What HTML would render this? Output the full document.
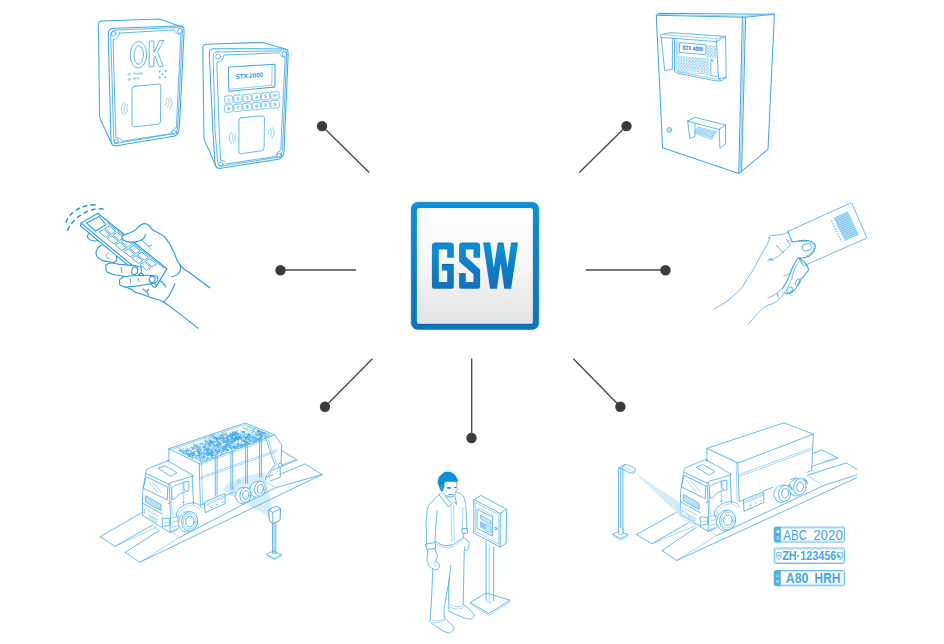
<!DOCTYPE html>
<html><head><meta charset="utf-8">
<style>
html,body{margin:0;padding:0;background:#fff;}
body{width:944px;height:644px;overflow:hidden;font-family:"Liberation Sans",sans-serif;}
svg{display:block;}
.b{fill:none;stroke:#45abe7;stroke-width:0.85;stroke-linejoin:round;stroke-linecap:round;}
.b2{fill:none;stroke:#3fa8e6;stroke-width:1.05;stroke-linejoin:round;stroke-linecap:round;}
.bl{fill:none;stroke:#7cc4ee;stroke-width:0.8;stroke-linejoin:round;stroke-linecap:round;}
.h{fill:none;stroke:#2199e2;stroke-width:1.1;stroke-linejoin:round;stroke-linecap:round;}
.hl{fill:none;stroke:#3aa7e4;stroke-width:0.9;}
.c{fill:none;stroke:#4aaee9;stroke-width:0.85;stroke-linejoin:round;stroke-linecap:round;}
.cl{fill:none;stroke:#6fbfee;stroke-width:0.8;}
.t{fill:none;stroke:#42abe9;stroke-width:0.82;stroke-linejoin:round;stroke-linecap:round;}
.tl{fill:none;stroke:#74c1ef;stroke-width:0.65;}
.m{fill:none;stroke:#42abe9;stroke-width:0.85;stroke-linejoin:round;stroke-linecap:round;}
.ml{fill:none;stroke:#7cc5ef;stroke-width:0.7;}
.k{stroke:#444;stroke-width:1.3;fill:none;}
.d{fill:#3b3b3b;}
</style></head><body>
<svg width="944" height="644" viewBox="0 0 944 644">
<defs>
<linearGradient id="gb" x1="0" y1="0" x2="0" y2="1"><stop offset="0" stop-color="#0591da"/><stop offset="1" stop-color="#0a74be"/></linearGradient>
<linearGradient id="gi" x1="0" y1="0" x2="0" y2="1"><stop offset="0" stop-color="#ffffff"/><stop offset="0.45" stop-color="#f7f7f7"/><stop offset="1" stop-color="#e2e2e2"/></linearGradient>
<linearGradient id="gt" x1="0" y1="0" x2="0" y2="1"><stop offset="0" stop-color="#088fdb"/><stop offset="1" stop-color="#156fb9"/></linearGradient>
</defs>
<!-- CONNECTORS -->
<g id="conn">
<line class="k" x1="322" y1="126" x2="369.2" y2="172.5"/><circle class="d" cx="322" cy="126.1" r="5.2"/>
<line class="k" x1="626.5" y1="126" x2="579.3" y2="172.5"/><circle class="d" cx="626.5" cy="126.1" r="5.2"/>
<line class="k" x1="280.5" y1="270" x2="356" y2="270"/><circle class="d" cx="280.5" cy="270.3" r="5.2"/>
<line class="k" x1="586" y1="270" x2="665.5" y2="270"/><circle class="d" cx="665.5" cy="270.3" r="5.2"/>
<line class="k" x1="325" y1="406.8" x2="372.4" y2="358.8"/><circle class="d" cx="325" cy="406.8" r="5.2"/>
<line class="k" x1="471.7" y1="358.6" x2="471.7" y2="438"/><circle class="d" cx="471.5" cy="438" r="5.2"/>
<line class="k" x1="620.4" y1="406.8" x2="573.4" y2="358.8"/><circle class="d" cx="620.4" cy="406.8" r="5.2"/>
</g>
<!-- GSW BOX -->
<g id="gsw">
<rect x="411.2" y="202.2" width="127.6" height="127.4" rx="6.8" fill="url(#gb)" stroke="#0a62a8" stroke-width="0.5"/>
<rect x="416.9" y="207.9" width="116" height="116" rx="2.6" fill="url(#gi)"/><path d="M419,324.3 H531" stroke="#0b3f8c" stroke-width="0.8" opacity="0.75"/>
<g fill="url(#gt)">
<path d="M434.4,242.8 H451.3 Q453.8,242.8 453.8,245.3 V257.8 H447.2 V249.5 H438.8 V281.9 H447.2 V270.5 H441.9 V264.1 H453.8 V286.2 Q453.8,288.7 451.3,288.7 H434.4 Q431.9,288.7 431.9,286.2 V245.3 Q431.9,242.8 434.4,242.8 Z"/>
<path d="M461.6,242.8 H477.6 Q480.1,242.8 480.1,245.3 V257.8 H473.5 V249.5 H465.8 V256.5 L480.1,269.5 V286.2 Q480.1,288.7 477.6,288.7 H461.6 Q459.1,288.7 459.1,286.2 V273.3 H465.8 V281.9 H473.5 V274.2 L459.1,261.5 V245.3 Q459.1,242.8 461.6,242.8 Z"/>
<path d="M483.2,242.8 H490.3 L493.8,268 L497.8,242.8 H503.5 L507.6,268 L510.9,242.8 H518 L511.1,288.7 H504.3 L500.6,263 L497,288.7 H490 Z"/>
</g>
<path d="M434.2,243.1 H451.4 M461.4,243.1 H477.8 M483.3,243.1 H490.2 M497.9,243.1 H503.4 M511,243.1 H517.9 M442,264.4 H453.6 M459.3,273.6 H465.6" stroke="#1d3f94" stroke-width="0.7" opacity="0.75" fill="none"/>
</g>
<!-- OK DEVICE -->
<g id="okdev" class="b">
<path class="b2" d="M101.9,20.9 Q98.3,21 98.4,24.6 L99.6,116 Q99.8,119.6 101.9,122.6 L111.8,144"/>
<path class="b2" d="M101.9,20.9 L159.1,19.1 L183.6,27.6"/>
<path class="b2" d="M113.6,28.3 L178.7,25.9 Q184.3,25.8 184.1,31.2 L180.3,110 L179,129.6 Q178.7,133.6 175,135.9 L116.2,145.7 Q111.4,146.3 111,141 L108.2,34 Q108.1,28.6 113.6,28.3 Z"/>
<path d="M116,30 L177.2,27.6 Q182.5,27.5 182.4,32.4 L178.7,110 L177.5,128.8 Q177.2,132.3 174,133.6 L119.6,142.9 Q114,143.8 113.7,138.6 L110.8,35.4 Q110.7,30.3 116,30 Z"/>
<path d="M119.4,33.1 L174.5,29.9 Q175,33.8 180.8,34.4 L177.2,110 L176.4,127.6 Q171.8,128.6 171.5,133.6 L121.8,141.3 Q121,137.4 115.8,137.8 L113,39.6 Q118.8,39 119.4,33.1 Z"/>
<circle cx="113.7" cy="33.9" r="2.4"/><circle cx="180" cy="31" r="2.4"/><circle cx="116.2" cy="141.5" r="2.2"/><circle cx="174.8" cy="132.8" r="2.2"/>
<g transform="matrix(1,-0.045,0,1,0,6.2)">
<ellipse cx="138.5" cy="54.8" rx="8.3" ry="13.3"/><ellipse cx="138.7" cy="55" rx="4.7" ry="9.3"/>
<path d="M149.6,41.7 H153.9 V53.2 L159.7,41.7 H164 L157.5,53 L163.4,67.4 H159.1 L155,56.9 L153.9,58.6 V67.4 H149.6 Z"/>
</g>
<circle cx="129.2" cy="74.5" r="1.1" class="bl"/><circle cx="129.2" cy="79.3" r="1.1" class="bl"/>
<g font-family="Liberation Sans, sans-serif" font-weight="700" font-size="2.9" fill="#4fade8" stroke="none" transform="matrix(1,-0.045,0,1,0,6.2)"><text x="133" y="74.6" textLength="10" lengthAdjust="spacingAndGlyphs">POWER</text><text x="133" y="79.5" textLength="6.6" lengthAdjust="spacingAndGlyphs">RFID</text></g>
<g fill="#4fade8" stroke="none"><circle cx="159.7" cy="71.5" r="0.95"/><circle cx="165.6" cy="71" r="0.95"/><circle cx="162.5" cy="74.2" r="0.95"/><circle cx="159.7" cy="77.4" r="0.95"/><circle cx="165.4" cy="77" r="0.95"/></g>
<path d="M134.8,86.3 L158.2,84 Q160.9,83.8 160.9,86.6 L160.5,121.2 Q160.5,123.8 157.8,124.2 L134.8,126.8 Q132,127.2 132,124.4 L132,89.2 Q132,86.6 134.8,86.3 Z" stroke="#62b8ec" stroke-width="1"/>
<path class="bl" d="M127.6,104.8 Q125.6,108.3 127.6,111.8 M125.6,103.4 Q122.4,108.5 125.6,113.6 M123.6,102.5 Q118.6,108.7 123.4,115"/>
<path class="bl" d="M165.5,99.4 Q167.3,102.4 165.6,105.4 M167.4,98 Q171,102.7 167.6,107.4 M169.5,96.9 Q174.6,103 169.5,109.4"/>
</g>
<!-- STX2000 DEVICE -->
<g id="stx2000" class="b">
<path class="b2" d="M206.2,44.3 Q202.7,44.5 202.8,48 L204,138 Q204.2,141 206.2,144 L216,166.4"/>
<path class="b2" d="M206.2,44.3 L262.6,42.4 L287.8,49.8"/>
<path class="b2" d="M213.4,48.7 L282.7,48.9 Q288.4,48.9 288.2,54 L284.9,130 L284,151.6 Q283.8,156 279.6,159.1 L221,168.3 Q215.6,169 215,163.6 L212.8,130 L209.3,54 Q209.2,48.8 213.4,48.7 Z"/>
<path d="M217.4,51.9 L281.7,50.8 Q286.9,50.8 286.7,55.6 L283.3,130 L282.4,150.8 Q282.2,154.6 278.6,157.2 L223.4,165.9 Q218.2,166.6 217.6,161.4 L215,130 L213.2,57 Q213.1,52 217.4,51.9 Z"/>
<path d="M224,55.1 L279.6,52.7 Q280.2,56.6 285.2,57.4 L281.7,130 L280.8,150.2 Q276.6,151.4 276.2,156.3 L226.2,163.9 Q225.4,160.2 220.6,160.6 L219.2,130 L216.8,62.4 Q223.2,61.4 224,55.1 Z"/>
<circle cx="218.2" cy="56.7" r="2.5"/><circle cx="284.6" cy="53.9" r="2.5"/><circle cx="220.8" cy="164.3" r="2.2"/><circle cx="279.2" cy="155.4" r="2.2"/>
<path d="M229.4,67 L274,64.2 Q275,64.2 275,65.2 L275,86 Q275,87 274,87.1 L230,91.2 Q228.9,91.3 228.9,90.2 L228.4,68 Q228.4,67.1 229.4,67 Z" stroke-width="1.1"/>
<path class="bl" d="M272.2,65.6 L271.7,85.2 L229.3,89.4 M271.7,85.2 L274.8,86.8"/>
<g transform="matrix(1,-0.08,0,1,0,19.9)"><text x="249.3" y="78" text-anchor="middle" font-family="Liberation Sans, sans-serif" font-weight="700" font-size="6.4" fill="#3494dc" stroke="none" textLength="27.4" lengthAdjust="spacingAndGlyphs">STX 2000</text></g>
<g id="keys" style="stroke-width:0.8;stroke:#6bbcec"><rect x="224.5" y="95.9" width="8.3" height="7.3" rx="1.3" transform="rotate(-5.2 228.7 99.6)"/><text x="228.7" y="101.4" text-anchor="middle" font-size="4.9" font-weight="700" font-family="Liberation Sans, sans-serif" fill="#4aa9e7" stroke="none" transform="rotate(-5.2 228.7 99.6)">1</text><rect x="233.8" y="95.1" width="8.3" height="7.3" rx="1.3" transform="rotate(-5.2 238.0 98.8)"/><text x="238.0" y="100.5" text-anchor="middle" font-size="4.9" font-weight="700" font-family="Liberation Sans, sans-serif" fill="#4aa9e7" stroke="none" transform="rotate(-5.2 238.0 98.8)">2</text><rect x="243.0" y="94.3" width="8.3" height="7.3" rx="1.3" transform="rotate(-5.2 247.2 97.9)"/><text x="247.2" y="99.7" text-anchor="middle" font-size="4.9" font-weight="700" font-family="Liberation Sans, sans-serif" fill="#4aa9e7" stroke="none" transform="rotate(-5.2 247.2 97.9)">3</text><rect x="252.3" y="93.4" width="8.3" height="7.3" rx="1.3" transform="rotate(-5.2 256.5 97.1)"/><text x="256.5" y="98.8" text-anchor="middle" font-size="4.9" font-weight="700" font-family="Liberation Sans, sans-serif" fill="#4aa9e7" stroke="none" transform="rotate(-5.2 256.5 97.1)">4</text><rect x="261.4" y="92.6" width="8.3" height="7.3" rx="1.3" transform="rotate(-5.2 265.5 96.3)"/><text x="265.5" y="98.0" text-anchor="middle" font-size="4.9" font-weight="700" font-family="Liberation Sans, sans-serif" fill="#4aa9e7" stroke="none" transform="rotate(-5.2 265.5 96.3)">5</text><rect x="270.8" y="91.8" width="8.3" height="7.3" rx="1.3" transform="rotate(-5.2 274.9 95.4)"/><text x="274.9" y="96.6" text-anchor="middle" font-size="3.3" font-weight="700" font-family="Liberation Sans, sans-serif" fill="#4aa9e7" stroke="none" transform="rotate(-5.2 274.9 95.4)">OK</text><rect x="224.5" y="104.9" width="8.3" height="7.3" rx="1.3" transform="rotate(-5.2 228.7 108.6)"/><text x="228.7" y="110.4" text-anchor="middle" font-size="4.9" font-weight="700" font-family="Liberation Sans, sans-serif" fill="#4aa9e7" stroke="none" transform="rotate(-5.2 228.7 108.6)">6</text><rect x="233.8" y="104.1" width="8.3" height="7.3" rx="1.3" transform="rotate(-5.2 238.0 107.7)"/><text x="238.0" y="109.5" text-anchor="middle" font-size="4.9" font-weight="700" font-family="Liberation Sans, sans-serif" fill="#4aa9e7" stroke="none" transform="rotate(-5.2 238.0 107.7)">7</text><rect x="243.0" y="103.2" width="8.3" height="7.3" rx="1.3" transform="rotate(-5.2 247.2 106.9)"/><text x="247.2" y="108.6" text-anchor="middle" font-size="4.9" font-weight="700" font-family="Liberation Sans, sans-serif" fill="#4aa9e7" stroke="none" transform="rotate(-5.2 247.2 106.9)">8</text><rect x="252.3" y="102.4" width="8.3" height="7.3" rx="1.3" transform="rotate(-5.2 256.5 106.0)"/><text x="256.5" y="107.8" text-anchor="middle" font-size="4.9" font-weight="700" font-family="Liberation Sans, sans-serif" fill="#4aa9e7" stroke="none" transform="rotate(-5.2 256.5 106.0)">9</text><rect x="261.4" y="101.5" width="8.3" height="7.3" rx="1.3" transform="rotate(-5.2 265.5 105.2)"/><text x="265.5" y="106.9" text-anchor="middle" font-size="4.9" font-weight="700" font-family="Liberation Sans, sans-serif" fill="#4aa9e7" stroke="none" transform="rotate(-5.2 265.5 105.2)">0</text><rect x="270.8" y="100.6" width="8.3" height="7.3" rx="1.3" transform="rotate(-5.2 274.9 104.3)"/><text x="274.9" y="106.1" text-anchor="middle" font-size="4.9" font-weight="700" font-family="Liberation Sans, sans-serif" fill="#4aa9e7" stroke="none" transform="rotate(-5.2 274.9 104.3)">X</text></g>
<path d="M241.6,117.7 L261.8,115.9 Q264.5,115.7 264.5,118.4 L264.1,147.8 Q264.1,150.4 261.4,150.8 L241.6,153.6 Q238.9,154 238.9,151.2 L238.9,120.6 Q238.9,118 241.6,117.7 Z" stroke="#62b8ec" stroke-width="1"/>
<path class="bl" d="M235.4,134.4 Q233.6,137.6 235.4,140.8 M233.5,133.2 Q230.6,137.7 233.5,142.2 M231.6,132 Q227,137.8 231.4,143.4"/>
<path class="bl" d="M268.2,129.4 Q269.8,132.2 268.3,135 M270,128.2 Q273.2,132.4 270.2,136.8 M271.9,127 Q276.6,132.6 272,138.2"/>
</g>
<!-- STX4000 CABINET -->
<g id="cab" class="b">
<path class="b2" d="M656.3,15.3 L662.6,147.8 L738.8,173.4 L741.6,171.3 L768,149.3 L774.4,14.3"/>
<path class="b2" d="M656.3,15.3 L659.2,13.2 L774.4,14.3 L745.6,17.2 L656.3,15.3"/>
<path d="M657,14.4 L745.3,16.2 L774,13.6" class="bl"/>
<path class="b2" d="M742.4,16.8 L738.8,173.4 M745.6,17.2 L741.6,171.3"/>
<path d="M744,17 L740.2,172.3" class="bl"/>
<!-- hood -->
<path d="M661,34.5 L671,32.7 L725.6,36.4 L716.4,41.6 L661.2,37.4 Z"/>
<path d="M661,34.5 L716.2,38.8 L725.6,36.4 M716.2,38.8 L716.4,41.6" class="bl"/>
<path d="M661.2,37.4 L664.7,70.6 L672.4,69.2 L672.4,38.4"/>
<path d="M725.6,36.4 L726.2,77.6 L718.5,78.6 L716.4,41.6 M718.5,78.6 L721.5,80.6 L726.2,77.6" />
<!-- terminal panel -->
<path d="M674.5,38.6 L674.5,70 Q674.6,72.6 677.2,73.2 L716.5,81 L721.5,80.6"/>
<path class="bl" d="M676,39 L676,69.2 Q676,71.3 678,71.8 L717.8,79.4"/>
<path d="M680,42.6 L705.9,44.8 L705.9,54.7 L680,52.5 Z"/>
<g transform="matrix(1,0.085,0,1,0,-58.9)"><text x="692.8" y="50.4" text-anchor="middle" font-family="Liberation Sans, sans-serif" font-weight="700" font-size="5.8" fill="#2a8ad6" stroke="#2a8ad6" stroke-width="0.15" textLength="20.8" lengthAdjust="spacingAndGlyphs">STX 4000</text></g>
<g id="kb4000" class="bl" style="stroke-width:0.6"><rect x="676.6" y="42.6" width="2.2" height="2.2" rx="0.7"/><rect x="676.6" y="45.8" width="2.2" height="2.2" rx="0.7"/><rect x="676.6" y="49.0" width="2.2" height="2.2" rx="0.7"/><rect x="676.6" y="52.2" width="2.2" height="2.2" rx="0.7"/><rect x="707.2" y="45.6" width="2.4" height="2.2" rx="0.7"/><rect x="707.2" y="48.7" width="2.4" height="2.2" rx="0.7"/><rect x="707.2" y="51.8" width="2.4" height="2.2" rx="0.7"/><rect x="707.2" y="54.9" width="2.4" height="2.2" rx="0.7"/><rect x="710.5" y="45.9" width="2.4" height="2.2" rx="0.7"/><rect x="710.5" y="49.0" width="2.4" height="2.2" rx="0.7"/><rect x="710.5" y="52.1" width="2.4" height="2.2" rx="0.7"/><rect x="710.5" y="55.2" width="2.4" height="2.2" rx="0.7"/><rect x="713.8" y="46.2" width="2.4" height="2.2" rx="0.7"/><rect x="713.8" y="49.3" width="2.4" height="2.2" rx="0.7"/><rect x="713.8" y="52.4" width="2.4" height="2.2" rx="0.7"/><rect x="713.8" y="55.5" width="2.4" height="2.2" rx="0.7"/><rect x="677.2" y="56.4" width="2.2" height="2.3" rx="0.7"/><rect x="680.1" y="56.6" width="2.2" height="2.3" rx="0.7"/><rect x="683.0" y="56.9" width="2.2" height="2.3" rx="0.7"/><rect x="685.9" y="57.1" width="2.2" height="2.3" rx="0.7"/><rect x="688.8" y="57.4" width="2.2" height="2.3" rx="0.7"/><rect x="691.7" y="57.6" width="2.2" height="2.3" rx="0.7"/><rect x="694.6" y="57.9" width="2.2" height="2.3" rx="0.7"/><rect x="697.5" y="58.1" width="2.2" height="2.3" rx="0.7"/><rect x="700.4" y="58.4" width="2.2" height="2.3" rx="0.7"/><rect x="703.3" y="58.6" width="2.2" height="2.3" rx="0.7"/><rect x="706.2" y="58.9" width="2.2" height="2.3" rx="0.7"/><rect x="677.8" y="59.7" width="2.2" height="2.3" rx="0.7"/><rect x="680.7" y="59.9" width="2.2" height="2.3" rx="0.7"/><rect x="683.6" y="60.2" width="2.2" height="2.3" rx="0.7"/><rect x="686.5" y="60.4" width="2.2" height="2.3" rx="0.7"/><rect x="689.4" y="60.7" width="2.2" height="2.3" rx="0.7"/><rect x="692.3" y="60.9" width="2.2" height="2.3" rx="0.7"/><rect x="695.2" y="61.2" width="2.2" height="2.3" rx="0.7"/><rect x="698.1" y="61.4" width="2.2" height="2.3" rx="0.7"/><rect x="701.0" y="61.7" width="2.2" height="2.3" rx="0.7"/><rect x="703.9" y="61.9" width="2.2" height="2.3" rx="0.7"/><rect x="706.8" y="62.2" width="2.2" height="2.3" rx="0.7"/><rect x="677.2" y="63.0" width="2.2" height="2.3" rx="0.7"/><rect x="680.1" y="63.2" width="2.2" height="2.3" rx="0.7"/><rect x="683.0" y="63.5" width="2.2" height="2.3" rx="0.7"/><rect x="685.9" y="63.8" width="2.2" height="2.3" rx="0.7"/><rect x="688.8" y="64.0" width="2.2" height="2.3" rx="0.7"/><rect x="691.7" y="64.2" width="2.2" height="2.3" rx="0.7"/><rect x="694.6" y="64.5" width="2.2" height="2.3" rx="0.7"/><rect x="697.5" y="64.8" width="2.2" height="2.3" rx="0.7"/><rect x="700.4" y="65.0" width="2.2" height="2.3" rx="0.7"/><rect x="703.3" y="65.2" width="2.2" height="2.3" rx="0.7"/><rect x="706.2" y="65.5" width="2.2" height="2.3" rx="0.7"/><rect x="677.8" y="66.3" width="2.2" height="2.3" rx="0.7"/><rect x="680.7" y="66.5" width="2.2" height="2.3" rx="0.7"/><rect x="683.6" y="66.8" width="2.2" height="2.3" rx="0.7"/><rect x="686.5" y="67.0" width="2.2" height="2.3" rx="0.7"/><rect x="689.4" y="67.3" width="2.2" height="2.3" rx="0.7"/><rect x="692.3" y="67.5" width="2.2" height="2.3" rx="0.7"/><rect x="695.2" y="67.8" width="2.2" height="2.3" rx="0.7"/><rect x="698.1" y="68.0" width="2.2" height="2.3" rx="0.7"/><rect x="701.0" y="68.3" width="2.2" height="2.3" rx="0.7"/><rect x="703.9" y="68.5" width="2.2" height="2.3" rx="0.7"/><rect x="706.8" y="68.8" width="2.2" height="2.3" rx="0.7"/><rect x="677.8" y="69.6" width="2.2" height="2.3" rx="0.7"/><rect x="680.7" y="69.8" width="2.2" height="2.3" rx="0.7"/><rect x="683.6" y="70.1" width="2.2" height="2.3" rx="0.7"/><rect x="701.0" y="71.6" width="2.2" height="2.3" rx="0.7"/><rect x="703.9" y="71.8" width="2.2" height="2.3" rx="0.7"/><rect x="706.8" y="72.1" width="2.2" height="2.3" rx="0.7"/><path d="M687.6,70.6 L699.6,71.6 L699.6,73.6 L687.6,72.6 Z"/></g>
<path d="M710.8,60.9 L710.8,75.4 L716.6,76.6 M710.8,60.9 L712,59 L712.6,61.4"/>
<!-- lock -->
<circle cx="669.3" cy="129.9" r="2.4"/><circle cx="669.6" cy="130" r="1.3" class="bl"/>
<!-- printer -->
<path d="M698.2,127.1 L716.4,131.6 L711.5,139.5 L694.5,133 Z" fill="#cfe9f9" stroke="#8fcdf0"/>
<path class="bl" d="M697.6,129 L714.8,133.6 M696.8,130.6 L713.6,135.6 M696,132 L712.6,137.4"/>
<path d="M687.7,120.9 L695,117.4 L725.5,125.1 L719.2,129.2 Z"/>
<path d="M687.7,120.9 L689.8,138.6 L695,136.2 L695,123"/>
<path d="M719.2,129.2 L719.9,148.1 L725.5,143.9 L725.5,125.1"/>
</g>
<!-- REMOTE HAND -->
<g id="remote" class="h">
<path d="M146.7,224.0 C147.8,224.8 147.9,224.5 150.0,226.5 C152.1,228.5 149.6,227.5 153.0,230.0 C156.5,232.5 155.7,230.8 160.4,234.1 C165.0,237.3 162.5,234.1 166.9,239.8 C171.2,245.5 169.1,242.9 173.4,251.2 C177.8,259.5 174.0,257.0 179.9,264.6 C185.9,272.2 181.3,266.3 191.4,274.0 C201.4,281.8 203.9,283.3 210.1,287.9"/>
<path d="M180.3,265.1 C180.2,267.0 181.1,267.5 179.9,270.8 C178.7,274.0 179.4,273.0 176.7,274.9 C174.0,276.8 173.4,275.9 171.8,276.5"/>
<path d="M175.0,283.8 C173.7,286.6 173.7,287.1 171.0,292.0 C168.2,296.9 169.4,295.3 166.9,298.5 C164.3,301.8 164.5,300.7 163.3,301.8"/>
<path d="M124.5,286.8 C126.9,287.7 128.3,287.8 131.8,289.5 C135.3,291.3 131.5,290.4 135.1,292.0 C138.6,293.6 136.2,292.3 142.4,294.4 C148.7,296.6 147.0,296.1 153.8,298.5 C160.6,301.0 155.2,297.4 162.8,301.8 C170.4,306.1 165.0,302.8 176.7,311.6 C188.4,320.4 190.8,322.7 197.9,328.2"/>
<path d="M157.9,279.8 C159.5,280.8 160.3,280.7 162.8,283.0 C165.4,285.4 164.7,285.5 165.6,286.8"/>
<path d="M142.7,289.1 C144.0,289.9 144.5,289.6 146.5,291.7 C148.5,293.7 147.9,294.1 148.6,295.3 M146.5,291.7 l2.2,-2.2"/>
<path d="M88.7,234.0 C88.3,235.1 86.6,235.3 87.7,237.5 C88.7,239.7 88.4,239.5 91.9,240.5 C95.3,241.6 96.0,240.5 98.0,240.5"/>
<path d="M97.7,213.3 L166.9,268.7 L156.6,285.6 L154.8,287.6 L80.3,225.6 L81,223.1 Z" fill="#fff"/>
<path d="M81,223.1 L156.6,285.6"/>
<path d="M86.6,223.1 L99.1,216.5 L106.1,224.5 L95.6,231 Z"/>
<g class="hl"><path d="M109.5,226.2 L115.9,231.3 L111.4,234.0 L105.0,228.8 Z" /><path d="M103.8,229.5 L110.2,234.7 L105.7,237.3 L99.3,232.2 Z" /><path d="M117.6,232.7 L124.0,237.9 L119.6,240.5 L113.2,235.4 Z" /><path d="M112.0,236.1 L118.4,241.2 L113.9,243.8 L107.5,238.7 Z" /><path d="M125.8,239.3 L132.2,244.4 L127.7,247.0 L121.3,241.9 Z" /><path d="M120.1,242.6 L126.5,247.7 L122.0,250.4 L115.6,245.2 Z" /><path d="M134.0,245.8 L140.4,250.9 L135.9,253.6 L129.5,248.4 Z" /><path d="M128.3,249.1 L134.7,254.3 L130.2,256.9 L123.8,251.8 Z" /><path d="M142.1,252.3 L148.5,257.5 L144.0,260.1 L137.6,255.0 Z" /><path d="M136.4,255.7 L142.8,260.8 L138.3,263.4 L131.9,258.3 Z" /><path d="M150.3,258.9 L156.7,264.0 L152.2,266.6 L145.8,261.5 Z" /><path d="M144.6,262.2 L151.0,267.3 L146.5,270.0 L140.1,264.8 Z" /><path d="M107.4,222.8 L163.6,267.8"/></g>
<path d="M101.9,245.4 C100.5,246.4 99.6,245.2 97.7,248.2 C95.9,251.3 95.4,250.8 96.3,254.5 C97.3,258.2 96.8,257.1 100.5,259.4 C104.3,261.7 102.6,260.7 107.5,261.5 C112.4,262.3 112.2,263.6 115.2,261.8 C118.2,259.9 116.1,257.9 116.6,255.9" fill="#fff"/>
<path d="M109.2,252.8 C108.3,253.5 107.3,253.2 106.5,254.8 C105.8,256.4 105.9,256.4 106.8,257.6 C107.7,258.8 108.4,258.1 109.2,258.4" class="hl"/>
<path d="M109.0,263.4 C104.0,265.0 105.9,265.9 106.2,269.2 C106.5,272.4 104.8,271.1 109.8,273.2 C114.8,275.4 113.6,274.5 121.2,275.7 C128.8,276.8 126.6,277.1 132.6,276.7 C138.6,276.2 136.3,276.8 139.2,274.4 C142.0,272.0 141.7,272.2 141.1,269.5 C140.6,266.8 144.2,267.8 137.5,266.2 C130.9,264.6 130.7,265.5 121.2,264.6 C111.7,263.7 114.0,261.9 109.0,263.4 Z" fill="#fff"/>
<ellipse cx="134.7" cy="270.8" rx="3" ry="3.8" transform="rotate(15 134.7 270.8)"/>
<path d="M121.2,267.5 L121.9,272.7" class="hl"/>
<path d="M122.0,277.8 C119.3,279.8 119.3,279.4 119.6,282.2 C119.8,285.0 118.5,284.9 122.8,286.3 C127.2,287.7 123.9,287.2 132.6,286.4 C141.3,285.7 141.1,285.5 148.9,284.0 C156.8,282.5 153.5,283.8 156.3,281.9 C159.1,279.9 158.2,280.2 157.4,278.1 C156.6,276.1 159.4,276.5 153.8,275.7 C148.3,274.8 149.5,275.3 140.8,275.5 C132.1,275.7 134.0,275.6 127.7,276.3 C121.5,277.1 124.7,275.8 122.0,277.8 Z" fill="#fff"/>
<ellipse cx="152.2" cy="279.4" rx="2.9" ry="3.2" transform="rotate(20 152.2 279.4)"/>
<path d="M130.2,278.9 L130.8,283.0 M138.3,278.3 L139.0,281.4" class="hl"/>
<path d="M122.2,235.9 C123.4,235.4 121.7,236.0 125.7,234.2 C129.7,232.5 129.0,233.9 134.1,230.8 C139.2,227.6 136.9,227.0 141.1,224.7 C145.3,222.5 145.3,220.9 146.7,224.0 C148.1,227.2 146.2,229.6 145.3,234.2 C144.3,238.9 146.2,235.7 143.9,238.0 C141.5,240.4 142.9,239.9 138.3,241.2 C133.6,242.5 134.9,242.4 129.9,241.9 C124.9,241.5 125.7,241.8 123.2,239.8 C120.6,237.8 122.5,237.2 122.2,235.9 Z" fill="#fff" stroke="none"/>
<path d="M122.2,235.9 C123.4,235.4 121.7,236.0 125.7,234.2 C129.7,232.5 129.0,233.9 134.1,230.8 C139.2,227.6 136.9,227.0 141.1,224.7 C145.3,222.5 144.8,224.3 146.7,224.0"/>
<path d="M145.3,234.2 C144.8,235.5 146.2,235.7 143.9,238.0 C141.5,240.4 142.9,239.9 138.3,241.2 C133.6,242.5 134.9,242.4 129.9,241.9 C124.9,241.5 125.7,241.8 123.2,239.8 C120.6,237.8 122.5,237.2 122.2,235.9"/>
<path d="M141.8,240.5 C143.4,241.8 143.5,241.6 146.7,244.5 C149.8,247.3 149.6,247.6 151.1,249.2 M148.3,246.4 l3.4,-1.2" class="hl"/>
<path d="M65.8,222.9 C66.9,220.9 65.9,220.8 69.0,216.8 C72.1,212.8 70.5,214.3 75.0,211.0 C79.5,207.7 77.2,209.0 82.5,207.0 C87.8,205.0 85.8,205.7 91.0,205.0 C96.2,204.3 95.7,204.9 98.0,204.8" stroke-dasharray="5.3 2.7" stroke-width="1.5" stroke-linecap="butt"/>
<path d="M67.4,230.7 C68.3,229.0 67.6,229.2 70.2,225.5 C72.8,221.8 71.3,223.2 75.2,219.5 C79.1,215.8 77.0,217.4 81.8,214.5 C86.6,211.6 84.3,212.5 89.5,210.7 C94.7,208.9 92.3,209.5 97.5,209.0 C102.7,208.5 102.5,209.1 105.0,209.2" stroke-dasharray="5.3 2.7" stroke-width="1.5" stroke-linecap="butt"/>
</g>
<!-- /REMOTE HAND -->
<!-- TRUCK2 -->
<g id="truck2" class="t">
<clipPath id="rclip"><rect x="0" y="0" width="857" height="644"/></clipPath>
<g clip-path="url(#rclip)">
<path d="M636.6,534.5 L679.5,510.7"/>
<path d="M636.6,534.5 L651.8,543.8 L688.9,522.5"/>
<path d="M651.8,543.8 L694.6,526.1" class="tl"/>
<path d="M662.0,550.5 L696.4,527.3"/>
<path d="M662.0,550.5 L676.8,560.4"/>
<path d="M676.8,560.4 L857.0,477.6 L870.0,471.4"/>
<path d="M676.8,560.4 L716.8,535.5 L709.3,529.8" class="tl"/>
<path d="M716.8,535.5 L822.8,485.9 L870.0,470.5"/>
<path d="M870.0,477.6 L846.4,462.9 L807.3,475.3"/>
<path d="M822.8,485.9 L808.5,476.0" class="tl"/>
<path d="M812.9,453.6 L821.6,449.9 L837.7,458.0 L812.9,466.0"/>
<path d="M837.7,458.0 L824.7,461.1" class="tl"/>
</g>
<path d="M634.3,472.6 L681.2,503.2 L683.3,510.9 L677.7,513.7 Z" fill="#d6ecfa" stroke="none"/>
<path d="M618.6,467.6 L618.6,533.6 M620.7,468.6 L620.7,534.4 M622.9,468 L622.9,533.8"/>
<path d="M618.6,467.6 L623.2,465.6 M618.6,467.6 L620.7,469.0 L622.9,468.4"/>
<path d="M623.9,469.7 C621.7,468.1 622.8,467.7 623.2,466.5 C623.5,465.3 622.8,464.2 625.3,464.5 C627.7,464.8 631.4,466.3 633.6,467.6 C635.9,468.9 635.3,468.8 635.0,470.1 C634.8,471.4 635.1,473.3 632.5,473.2 C629.9,473.1 626.0,471.2 623.9,469.7 Z" fill="#fff"/>
<path d="M624.6,465.1 L626.0,468.4 L633.6,471.8" class="tl"/>
<path d="M613.1,534.0 L619.0,531.2 L628.1,534.4 L621.1,538.6 Z" fill="#fff"/>
<path d="M613.1,534.0 L613.1,535.5 L621.1,540.2 L628.1,536.1 L628.1,534.4" class="tl"/>
<path d="M618.6,528 L618.6,533.8 L620.7,535 L622.9,533.8 L622.9,528" fill="#fff"/>
<path d="M706.9,448.4 L784.0,422.8 L813.4,434.2 L811.7,470.5 L739.2,501.5 L737.8,463.1 Z" fill="#fff" stroke="none"/>
<path d="M706.9,461.5 L706.9,448.4 L784.0,422.8 L813.4,434.2 L811.7,470.5"/>
<path d="M706.9,448.4 L737.8,463.1 L813.4,434.2"/>
<path d="M737.8,463.1 L739.2,501.5"/>
<path d="M736.2,462.8 L737.2,500.8" class="tl"/>
<path d="M707.8,448.8 L737.8,462.3" class="tl"/>
<path d="M739.2,474.5 L812.6,447.6 M739.2,476.5 L812.6,449.6" class="tl"/>
<path d="M739.2,501.5 L744.0,499.3 M763.6,491.0 L772.6,487.4 M790.5,479.8 L796.2,477.5 M806.9,472.4 L811.7,470.5"/>
<path d="M743.7,499.8 L763.6,491.7 L763.9,502.3 L744.4,511.2 Z" fill="#fff"/>
<path d="M744.5,501.5 L763.0,493.6 L763.0,495.3 L744.5,503.1" class="tl"/>
<circle cx="750.6" cy="505.2" r="0.7" fill="#3aa7e4" stroke="none"/>
<circle cx="756.0" cy="503.1" r="0.7" fill="#3aa7e4" stroke="none"/>
<circle cx="761.2" cy="500.6" r="0.7" fill="#3aa7e4" stroke="none"/>
<path d="M783.8,485.1 C782.0,485.6 781.5,484.5 778.3,486.7 C775.2,488.9 775.5,488.1 774.4,491.8 C773.3,495.5 773.4,494.3 775.0,497.7 C776.7,501.1 776.2,500.8 779.3,502.1 C782.4,503.4 782.7,501.7 784.3,501.5" fill="#fff"/>
<ellipse cx="784.8" cy="493.3" rx="6.1" ry="8.2" fill="#fff" transform="rotate(8 784.8 493.3)"/>
<ellipse cx="785.1" cy="493.3" rx="3.5" ry="4.8" transform="rotate(8 784.8 493.3)"/>
<path d="M798.8,478.6 C797.0,479.1 796.5,477.9 793.3,480.2 C790.2,482.4 790.5,481.6 789.4,485.3 C788.3,488.9 788.4,487.7 790.0,491.2 C791.7,494.6 791.2,494.3 794.3,495.6 C797.4,496.8 797.7,495.2 799.3,495.0" fill="#fff"/>
<ellipse cx="799.8" cy="486.8" rx="6.1" ry="8.2" fill="#fff" transform="rotate(8 799.8 486.8)"/>
<ellipse cx="800.1" cy="486.8" rx="3.5" ry="4.8" transform="rotate(8 799.8 486.8)"/>
<path d="M788.8,485.0 C789.3,485.4 789.4,485.3 790.2,486.3 C791.1,487.3 790.7,486.8 791.4,488.0 C792.0,489.3 791.9,489.4 792.2,490.1" stroke-width="1.2"/>
<path d="M803.8,478.5 C804.3,478.9 804.4,478.8 805.3,479.8 C806.1,480.8 805.8,480.3 806.4,481.5 C807.1,482.8 806.9,482.9 807.2,483.6" stroke-width="1.2"/>
<path d="M683.9,472.3 L685.2,468.1 L704.4,460.4 L729.5,473.6 L730.4,476.9 L731.5,502.7 L719.6,506.6 L714.3,515.9 L708.1,531.5 L680.8,514.7 L680.6,506.6 L680.6,488.1 Z" fill="#fff" stroke="none"/>
<path d="M683.9,472.3 C684.2,471.1 683.2,470.5 684.7,468.6 C686.3,466.7 682.4,469.1 688.5,466.5 C694.7,463.8 697.2,462.8 703.1,460.7 C708.9,458.6 704.1,459.9 706.1,460.1 C708.1,460.4 701.8,457.4 709.0,461.5 C716.2,465.5 720.7,467.9 727.8,472.3 C734.8,476.7 729.4,473.1 730.2,474.7 C730.9,476.3 730.2,476.3 730.2,477.0"/>
<path d="M683.9,472.3 C686.3,473.4 691.2,475.7 695.8,477.8 C700.4,480.0 704.4,482.2 707.0,482.9 C709.7,483.5 706.5,482.2 709.0,481.3 C711.5,480.4 715.4,479.6 719.6,478.4 C723.8,477.1 728.0,475.6 730.2,474.9"/>
<path d="M696.5,467.0 L703.1,464.6 L715.0,471.6 L709.0,474.9 Z"/>
<path d="M683.5,473.3 C682.9,476.9 682.1,481.5 681.3,486.8 C680.5,492.2 680.8,487.4 680.6,493.4 C680.4,499.4 680.5,503.7 680.5,509.3 C680.5,514.9 680.7,513.1 680.8,514.4"/>
<path d="M680.8,514.4 L708.1,531.3 L715.6,528.2"/>
<path d="M707.0,482.9 L708.6,514.6 L708.1,531.3"/>
<path d="M708.8,483.1 L710.1,513.9" class="tl"/>
<path d="M684.6,475.6 L705.7,485.9 L705.3,498.7 L681.5,487.1 Z"/>
<path d="M686.6,480.2 L695.8,491.4 M690.5,480.9 L699.8,491.4" class="tl"/>
<path d="M683.9,494.7 L699.1,503.3 L699.1,509.3 L683.9,501.3 Z"/>
<path d="M684.3,496.1 L698.7,504.5 M684.3,497.4 L698.7,505.7 M684.3,498.7 L698.7,506.9 M684.3,500.0 L698.7,508.1 " class="tl"/>
<path d="M680.7,502.0 L700.5,512.9"/>
<path d="M685.8,509.0 L696.6,515.2 M685.8,512.9 L696.2,518.7" class="tl"/>
<path d="M688.5,515.6 L694.7,519.1 L694.7,521.2 L688.5,517.7 Z" class="tl"/>
<path d="M680.3,506.7 L682.7,508.2 L682.7,512.1" class="tl"/>
<path d="M700.4,516.9 L707.7,517.4 L707.7,524.1 L700.7,525.3 Z"/>
<path d="M700.5,521.4 L707.5,521.0" class="tl"/>
<path d="M710.1,498.0 C710.0,496.4 709.6,490.2 709.7,488.1 C709.8,486.1 708.5,486.8 710.6,485.8 C712.7,484.7 720.1,481.1 722.2,481.8 C724.4,482.5 724.4,488.3 723.5,490.1 C722.7,491.9 718.9,491.6 717.2,492.8 C715.5,494.0 714.4,496.5 713.2,497.4 C712.1,498.3 710.6,497.9 710.1,498.0"/>
<path d="M722.2,480.9 L726.9,480.2 L726.9,489.5 L724.2,490.3 L722.2,488.1 Z" fill="#fff"/>
<path d="M720.9,480.2 L721.6,504.0" class="tl"/>
<path d="M706.1,502.4 L708.5,501.6 M720.6,501.3 L722.5,500.7"/>
<path d="M730.2,477.0 L731.5,502.9"/>
<path d="M714.3,515.9 C714.7,513.9 713.6,513.5 715.6,509.9 C717.6,506.4 716.1,508.0 720.2,505.3 C724.4,502.7 723.1,502.8 728.2,502.0 C733.2,501.2 731.6,501.3 735.4,502.9 C739.3,504.6 738.3,505.6 739.7,506.9"/>
<path d="M716.3,517.2 C716.7,515.2 715.8,514.6 717.6,511.3 C719.4,508.0 718.0,509.6 721.6,507.3 C725.1,505.0 724.0,505.0 728.2,504.3 C732.4,503.5 731.0,503.7 734.1,505.0 C737.2,506.4 736.3,507.2 737.4,508.2" class="tl"/>
<path d="M709.0,516.9 L715.3,515.2 M709.0,521.4 L716.0,519.5 M709.0,526.1 L716.8,523.7 M709.8,529.3 L716.8,527.0 M715.4,515.2 L716.8,527.0" class="tl"/>
<path d="M726.7,510.3 C724.8,511.0 724.4,509.3 721.2,512.2 C718.0,515.2 718.1,514.6 717.1,519.2 C716.0,523.9 716.2,522.4 718.1,526.2 C719.9,530.0 719.6,529.4 722.7,530.6 C725.7,531.9 725.7,530.2 727.2,530.0" fill="#fff"/>
<ellipse cx="727.7" cy="520.2" rx="8" ry="9.8" fill="#fff" transform="rotate(8 727.7 520.2)"/>
<ellipse cx="727.8" cy="520.2" rx="6.3" ry="7.8" class="tl" transform="rotate(8 727.7 520.2)"/>
<ellipse cx="727.9" cy="520.2" rx="4.3" ry="5.3" transform="rotate(8 727.7 520.2)"/>
<path d="M676.0,503.0 L686.0,510.0 L697.0,526.0 L684.0,521.0 L678.0,515.0 Z" fill="#bfe2f8" fill-opacity="0.55" stroke="none"/>
</g>
<g id="plates" font-family="Liberation Sans, sans-serif" fill="#3fa7e5">
<rect x="774.2" y="527.1" width="70.4" height="15" rx="1.8" fill="#fff" stroke="#55b2ea" stroke-width="0.9"/>
<rect x="775.4" y="528.3000000000001" width="68" height="12.6" rx="1" fill="none" stroke="#9fd3f3" stroke-width="0.6"/>
<path d="M776,527.1 H780.8 V542.1 H776 Q774.2,542.1 774.2,540.3000000000001 V528.9 Q774.2,527.1 776,527.1 Z" fill="#4aaee8"/>
<text x="783.2" y="539.7" font-size="14.4" textLength="23.8" lengthAdjust="spacingAndGlyphs">ABC</text><text x="813.2" y="539.7" font-size="14.4" textLength="29.6" lengthAdjust="spacingAndGlyphs">2020</text>
<rect x="776.6" y="530" width="2.6" height="3" fill="#fff" opacity="0.8"/><rect x="776.8" y="536" width="2.2" height="3.6" fill="#fff" opacity="0.5"/>
<rect x="774.2" y="548" width="70.4" height="15.5" rx="1.8" fill="#fff" stroke="#55b2ea" stroke-width="0.9"/>
<rect x="775.4" y="549.2" width="68" height="13.1" rx="1" fill="none" stroke="#9fd3f3" stroke-width="0.6"/>
<text x="782.2" y="560.3" font-size="13" font-weight="700" textLength="54" lengthAdjust="spacingAndGlyphs">ZH·123456</text>
<path d="M776.6,552.6 H781.2 V556 Q781.2,558.6 778.9,559.6 Q776.6,558.6 776.6,556 Z" fill="none" stroke="#55b2ea" stroke-width="0.8"/><path d="M778.9,554 V557.4 M777.4,555.7 H780.4" stroke="#55b2ea" stroke-width="0.8"/>
<path d="M837.4,552.4 H842.6 V556 Q842.6,558.8 840,559.8 Q837.4,558.8 837.4,556 Z" fill="none" stroke="#55b2ea" stroke-width="0.8"/><path d="M837.6,552.6 L841.8,558.6 L837.6,557 Z" fill="#4aaee8"/>
<rect x="774.2" y="570.5" width="70.4" height="15.3" rx="1.8" fill="#fff" stroke="#55b2ea" stroke-width="0.9"/>
<rect x="775.4" y="571.7" width="68" height="12.9" rx="1" fill="none" stroke="#9fd3f3" stroke-width="0.6"/>
<path d="M776,570.5 H780.8 V585.8 H776 Q774.2,585.8 774.2,584.0 V572.3 Q774.2,570.5 776,570.5 Z" fill="#4aaee8"/>
<text x="785.8" y="583.4" font-size="14.6" font-weight="700" textLength="22.6" lengthAdjust="spacingAndGlyphs">A80</text><text x="814.6" y="583.4" font-size="14.6" font-weight="700" textLength="25.6" lengthAdjust="spacingAndGlyphs">HRH</text>
<circle cx="777.6" cy="575.6" r="1.5" fill="none" stroke="#fff" stroke-width="0.5" opacity="0.7"/><rect x="776.6" y="580" width="2.2" height="3" fill="#fff" opacity="0.5"/>
</g>
<!-- /TRUCK2 -->
<!-- MAN -->
<g id="man" class="m">
<path d="M470.4,602.4 L486.1,593.0 L510.0,600.2 L489.3,613.3 Z"/>
<path d="M470.4,602.4 L470.4,604.1 L489.3,615.4 L510.0,602.2 L510.0,600.2" class="ml"/>
<path d="M486.1,541 L486.1,600 M493.7,547 L493.7,600.6"/>
<path d="M489.2,544 L489.2,601" class="ml"/>
<path d="M486.1,600.2 C487.3,601.1 487.2,602.7 489.8,602.8 C492.3,603.0 492.4,601.4 493.7,600.7" class="ml"/>
<path d="M474.1,499.8 L480.7,495.4 L506.7,509.3 L506.1,543.3 L500.2,547.0 L474.1,533.3 Z" fill="#fff"/>
<path d="M474.1,499.8 L500.2,513.3 L500.2,547.0 M500.2,513.3 L506.7,509.3"/>
<path d="M475.7,502.8 L498.7,514.8 L498.7,544.1 L475.7,531.7 Z" class="ml"/>
<path d="M477.4,509.3 L492.6,517.2 L492.6,536.1 L477.4,528.5 Z"/>
<path d="M477.4,509.3 L479.1,508.0 L493.7,515.7 L492.6,517.2" class="ml"/>
<path d="M480.7,515.4 L491.1,520.9 L491.1,524.6 L480.7,519.1 Z" fill="#cfe8f9" stroke-width="0.6"/>
<path d="M480.0,520.9 L485.0,523.5 L485.0,530.2 L480.0,527.6 Z" fill="#8ccaf1" stroke="none"/>
<path d="M486.1,524.1 L491.1,526.7 L491.1,533.3 L486.1,530.7 Z" fill="#cfe8f9" stroke-width="0.6"/>
<circle cx="481.2" cy="515.6" r="0.7" fill="#2a97e0" stroke="none"/>
<circle cx="495.9" cy="528.6" r="1.2"/>
<path d="M439.3,493.7 L428.3,506.3 L426.1,523.9 L426.5,544.6 L426.0,544.0 L427.1,549.7 L427.6,562.6 L432.0,568.3 L432.8,569.1 L431.2,604.7 L430.4,619.2 L431.2,622.4 L445.7,632.1 L451.4,631.3 L453.5,627.3 L444.9,618.4 L447.3,588.5 L448.9,578.8 L448.9,607.9 L449.8,611.1 L466.7,618.4 L472.4,617.6 L473.5,613.6 L463.5,604.7 L463.5,588.5 L464.3,549.7 L466.7,548.9 L470.0,543.2 L468.8,541.6 L466.6,528.4 L465.8,507.7 L462.9,495.9 L457.0,492.3 Z" fill="#fff" stroke="none"/>
<path d="M441.2,490.8 C439.5,487.8 440.2,489.6 439.3,485.6 C438.4,481.7 435.9,483.5 438.6,479.0 C441.3,474.5 441.3,472.1 447.4,472.1 C453.6,472.1 453.9,474.0 457.0,479.0 C460.1,484.0 457.4,481.9 456.7,487.1 C456.0,492.3 456.4,491.3 454.8,494.5 C453.2,497.7 455.3,496.7 451.8,496.7 C448.4,496.7 448.0,496.4 444.5,494.5 C440.9,492.5 442.9,493.7 441.2,490.8 Z" fill="#fff" stroke="none"/>
<path d="M441.5,491.2 C440.5,490.6 440.4,490.0 439.5,487.1 C438.6,484.2 437.4,483.9 438.1,480.5 C438.9,477.0 439.7,476.4 442.3,474.1 C444.8,471.9 444.7,472.1 447.7,472.1 C450.7,472.1 451.1,472.3 453.6,474.1 C456.1,476.0 456.2,477.2 457.1,479.1 C458.1,481.1 458.4,480.9 457.1,481.5 C455.9,482.1 455.8,481.3 452.6,481.5 C449.4,481.7 447.4,481.0 445.2,482.1 C443.0,483.2 444.7,483.7 444.2,485.6 C443.7,487.6 444.0,487.8 443.3,489.3 C442.6,490.8 442.5,491.8 441.5,491.2 Z" fill="#0a90da" stroke="#0a90da" stroke-width="0.6"/>
<path d="M457.1,481.5 C457.1,483.0 456.7,485.0 456.9,487.1 C457.0,489.2 457.9,488.5 457.7,489.3 C457.6,490.2 457.0,489.0 456.3,490.3 C455.6,491.7 456.3,492.7 455.1,494.5 C453.9,496.2 454.1,496.5 451.8,496.8 C449.6,497.1 449.0,496.7 446.7,495.7 C444.4,494.6 444.2,493.7 443.3,493.0"/>
<ellipse cx="448.9" cy="487.9" rx="2" ry="0.85" fill="#0f86d6" stroke="none"/><ellipse cx="455.2" cy="487.6" rx="1.4" ry="0.7" fill="#0f86d6" stroke="none"/>
<path d="M449,494.5 L452.8,494.3" stroke="#2a97e0" stroke-width="1"/>
<path d="M445.0,495.4 C446.5,496.1 446.3,497.8 449.6,497.4 C452.9,497.0 453.1,495.2 454.8,494.1" class="ml"/>
<path d="M442.0,485.6 C441.6,486.2 440.9,486.0 440.9,487.4 C441.0,488.8 441.7,489.0 442.1,489.8" class="ml"/>
<path d="M440.1,493.9 L439.3,495.2 L448.2,506.6 L452.1,503.6 L445.2,496.2"/>
<path d="M455.1,496.2 L456.6,504.5 L454.1,501.8"/>
<path d="M439.3,494.0 C437.8,495.7 435.3,498.2 432.7,501.1 C430.1,504.0 429.6,503.3 428.3,506.6 C426.9,509.8 427.3,511.0 426.8,515.1 C426.3,519.2 426.1,519.5 426.1,523.9 C426.0,528.4 426.4,529.4 426.5,534.3 C426.6,539.1 426.5,542.2 426.5,544.6"/>
<path d="M437.1,510.7 C436.8,514.5 436.4,519.6 435.9,526.9 C435.4,534.2 435.1,538.4 434.9,541.9"/>
<path d="M457.0,492.3 C458.4,493.1 461.0,493.7 462.9,495.9 C464.8,498.2 464.4,498.7 465.1,501.8 C465.8,504.9 465.6,504.7 466.0,509.2 C466.3,513.7 466.4,516.5 466.6,521.0 C466.8,525.5 466.8,526.9 466.9,528.7"/>
<path d="M462.9,508.0 C462.7,513.3 462.6,517.1 462.5,523.9 C462.3,530.8 462.5,527.1 462.5,528.7" class="ml"/>
<path d="M451.1,506.0 L451.8,541.6 M453.6,505.1 L454.2,541.0" class="ml"/>
<path d="M435.6,541.6 C439.6,542.9 439.6,545.9 447.4,545.5 C455.3,545.1 454.0,543.2 459.2,540.4 C464.4,537.7 461.8,538.3 463.0,537.2"/>
<path d="M435.9,543.8 C439.9,545.1 439.9,548.0 447.7,547.5 C455.6,547.0 454.3,545.3 459.5,542.4 C464.7,539.4 462.1,539.9 463.3,538.7" class="ml"/>
<path d="M462.2,528.7 L467.3,528.4 L467.6,533.1 L462.7,533.7 Z"/>
<path d="M463.6,534.0 C463.7,534.9 462.7,535.5 463.9,537.5 C465.2,539.5 467.0,539.3 468.3,541.3 C469.7,543.4 469.0,543.2 468.9,545.3 C468.9,547.4 469.1,548.0 468.1,549.3 C467.0,550.6 466.0,550.8 465.1,550.2 C464.2,549.5 464.9,547.7 464.8,546.8"/>
<path d="M426.0,544.0 L435.2,542.6 L435.7,548.1 L427.1,549.7 Z"/>
<path d="M427.9,550.0 C427.8,551.7 427.4,552.8 427.3,556.2 C427.2,559.5 426.4,559.4 427.6,562.6 C428.9,565.9 429.3,566.6 432.0,568.3 C434.6,570.0 435.7,570.2 437.6,569.1 C439.6,568.0 439.8,566.4 439.2,564.2 C438.7,562.1 436.2,563.3 435.7,561.0 C435.2,558.8 437.6,559.1 437.3,555.8 C437.0,552.6 435.4,550.7 434.7,548.9"/>
<path d="M435.7,561.0 C435.4,562.1 434.1,562.6 434.7,564.2 C435.4,565.9 436.7,565.3 437.6,565.9" class="ml"/>
<path d="M432.8,569.1 C432.6,573.0 432.3,581.4 432.0,588.5 C431.7,595.6 431.5,598.5 431.2,604.7 C430.8,610.8 430.5,616.3 430.4,619.2"/>
<path d="M450.9,565.1 C450.6,567.8 450.0,573.5 449.3,578.8 C448.5,584.1 448.0,585.9 447.0,591.7 C446.0,597.5 445.0,603.4 444.4,607.9 C443.8,612.4 444.0,612.3 444.1,614.4 C444.2,616.5 444.7,617.6 444.9,618.4"/>
<path d="M464.3,549.7 C464.2,554.2 464.0,564.6 463.8,572.3 C463.7,580.1 463.6,582.0 463.5,588.5 C463.4,595.0 463.2,601.4 463.2,604.7"/>
<path d="M449.3,578.8 C449.1,581.7 448.7,587.5 448.6,593.3 C448.6,599.2 448.9,605.0 448.9,607.9"/>
<path d="M430.4,619.2 C430.5,619.9 428.1,620.2 431.2,622.8 C434.2,625.4 441.7,630.4 445.7,632.1 C449.8,633.9 449.8,632.5 451.4,631.5 C452.9,630.5 454.8,629.9 453.5,627.3 C452.2,624.7 446.6,620.2 444.9,618.4"/>
<path d="M432.5,620.8 C434.5,620.7 434.6,621.2 438.4,620.5 C442.3,619.9 442.2,619.4 444.1,618.9 M433.1,622.8 C435.2,622.6 435.3,623.0 439.2,622.1 C443.2,621.3 443.0,620.8 444.9,620.2" class="ml"/>
<path d="M448.9,607.9 C449.1,608.6 446.2,609.3 449.8,611.5 C453.3,613.6 462.2,617.3 466.7,618.6 C471.3,619.8 471.0,618.8 472.4,617.8 C473.7,616.8 475.3,616.2 473.5,613.6 C471.7,610.9 465.5,606.4 463.5,604.7"/>
<path d="M450.9,604.7 C452.9,605.3 453.0,606.2 457.0,606.6 C461.0,607.0 460.9,606.2 462.8,606.0 M450.2,607.1 C452.5,607.7 452.6,608.6 457.0,608.9 C461.4,609.1 461.3,608.2 463.5,607.9" class="ml"/>
</g>
<!-- /MAN -->
<!-- CARD HAND -->
<g id="cardhand" class="c">
<path d="M788.4,231.2 L850.6,203 Q851.6,202.6 852,203.6 L866.6,237 Q867,238 866,238.4 L804.4,265.6 Q803.6,266 803.2,265.2 L788,232.2 Q787.8,231.5 788.4,231.2 Z"/>
<path d="M833.8,218.2 L847.8,211.9 L858.3,234.2 L845.0,240.5 Z" fill="#b9dff7" stroke="none"/>
<path d="M833.8,218.2 L847.8,211.9 M834.7,220.1 L848.7,213.8 M835.7,221.9 L849.5,215.6 M836.6,223.8 L850.4,217.5 M837.5,225.6 L851.3,219.3 M838.5,227.5 L852.2,221.2 M839.4,229.3 L853.0,223.1 M840.3,231.2 L853.9,224.9 M841.3,233.1 L854.8,226.8 M842.2,234.9 L855.7,228.6 M843.1,236.8 L856.5,230.5 M844.1,238.6 L857.4,232.3 M845.0,240.5 L858.3,234.2 " stroke="#5cb6ec" stroke-width="0.75"/>
<path d="M831.4,220.4 L841.4,241.6" stroke="#7cc5ef" stroke-width="1.7" stroke-dasharray="1.5 1.4" stroke-linecap="butt"/>
<path d="M714.0,309.2 C721.0,304.3 723.3,305.4 734.9,294.5 C746.6,283.5 740.5,288.9 748.9,276.3 C757.3,263.7 753.6,268.4 760.1,256.8 C766.6,245.1 765.5,247.8 768.5,241.4 C771.4,235.0 767.6,239.4 768.9,237.4 C770.2,235.5 767.9,236.7 772.4,235.6 C776.8,234.6 776.9,235.5 782.1,234.2 C787.3,233.0 786.0,232.6 788.0,231.9"/>
<path d="M747.5,324.9 C751.2,320.8 752.6,318.8 758.7,312.6 C764.7,306.5 761.0,309.4 765.7,306.4 C770.3,303.3 768.0,306.1 772.6,303.6 C777.3,301.0 775.9,301.9 779.6,298.7 C783.4,295.4 782.4,295.4 783.8,293.8"/>
<path d="M791.9,241.9 C793.8,241.7 792.8,241.7 797.5,241.2 C802.2,240.7 800.8,240.0 805.9,240.5 C811.0,241.0 809.8,240.3 812.9,242.6 C815.9,244.9 815.5,243.8 815.1,247.5 C814.7,251.2 814.8,250.5 811.7,253.8 C808.7,257.0 810.3,255.8 805.9,257.3 C801.5,258.7 801.0,257.8 798.6,258.1" fill="#fff" stroke="#3aa4e6" stroke-width="1.05"/>
<path d="M796.1,241.9 C799.4,241.8 800.8,240.9 805.9,241.5 C811.0,242.1 808.9,241.6 811.5,243.6 C814.0,245.6 813.8,244.3 813.6,247.5 C813.3,250.7 813.3,250.2 810.8,253.1 C808.2,256.0 807.5,255.1 805.9,256.2" class="cl"/>
<rect x="-4.3" y="-3.3" width="8.6" height="6.6" rx="1.8" transform="translate(806.8 247.2) rotate(-14)"/>
<path d="M788,231.6 L791.9,241.9 M798.2,257.6 L803.4,265.4"/>
<path d="M790.5,244.7 C788.2,247.0 788.7,247.3 783.5,251.7 C778.4,256.1 780.3,255.2 775.1,258.0 C770.0,260.8 770.5,259.4 768.2,260.1 M768.2,260.1 l3.5,-1.4 M771.0,259.4 l2.2,1.6"/>
<path d="M776.5,245.4 L781.4,251.0 L783.8,252.7"/>
<path d="M786.6,239.8 L788.0,241.6 L789.5,240.1 M788.0,241.6 L790.5,244.4"/>
<path d="M798.5,257.5 C801.5,260.5 805.5,260.7 807.6,266.5 C809.7,272.4 807.3,270.3 804.8,274.9 C802.2,279.6 802.7,276.3 799.9,280.5 C797.1,284.7 799.9,283.2 796.4,287.5 C792.9,291.8 793.6,291.9 789.4,293.4 C785.2,294.9 785.7,292.4 783.8,292.0" stroke="#3aa4e6" stroke-width="1.05"/>
<path d="M797.8,258.2 C795.9,261.4 795.5,261.0 792.2,267.9 C788.9,274.9 791.3,272.1 788.0,279.1 C784.8,286.1 784.3,285.6 782.4,288.9" stroke="#3aa4e6" stroke-width="1.05"/>
<path d="M796.4,261.0 C794.5,264.7 794.3,265.1 790.8,272.1 C787.3,279.1 789.6,275.6 785.9,281.9 C782.2,288.2 781.7,288.0 779.6,291.0" class="cl"/>
<path d="M799.5,261.0 C797.7,264.0 797.2,263.5 794.3,270.0 C791.4,276.6 793.4,273.8 790.8,280.5 C788.2,287.3 788.0,287.0 786.6,290.3" class="cl"/>
<path d="M796.4,265.1 C795.5,267.5 795.0,267.5 793.6,272.1 C792.2,276.8 792.7,276.8 792.2,279.1" class="cl"/>
<ellipse cx="797.8" cy="282.2" rx="2.2" ry="3.6" transform="rotate(30 797.8 282.2)"/>
<ellipse cx="789.7" cy="289.9" rx="2.4" ry="3.6" transform="rotate(55 789.7 289.9)"/>
<path d="M783.8,275.9 C785.2,275.3 785.5,275.6 788.0,274.2 C790.6,272.9 790.3,272.6 791.5,271.9"/>
<path d="M767.8,298.0 C770.3,296.7 771.4,296.9 775.4,294.2 C779.5,291.6 778.4,291.4 779.9,290.0 M777.5,292.8 L778.2,297.3"/>
</g>
<!-- /CARD HAND -->
<!-- TRUCK1 -->
<g id="truck1" class="t">
<path d="M272.2,507.6 L269.4,517.4 L223.0,490.2 L227.0,483.7 L245.3,475.6 L264.5,472.6 Z" fill="#d9eefb" stroke="none"/>
<path d="M100.2,536.7 L142.5,512.2"/>
<path d="M100.2,536.7 L115.0,546.4 L152.1,525.2"/>
<path d="M115.0,546.4 L157.3,526.8" class="tl"/>
<path d="M125.4,552.3 L158.8,530.8"/>
<path d="M125.4,552.3 L139.5,562.4 L322.1,474.6"/>
<path d="M139.5,562.4 L179.5,537.5 L172.0,531.8" class="tl"/>
<path d="M179.5,537.5 L275.6,487.7 L322.1,474.6"/>
<path d="M322.1,474.6 L304.9,463.9 L281.7,473.6"/>
<path d="M275.6,487.7 L262.0,479.5" class="tl"/>
<path d="M281.7,450.4 L296.8,459.8 L272.0,470.5"/>
<path d="M296.8,459.8 L285.7,463.5" class="tl"/>
<path d="M152.1,524.4 L158.8,530.8" class="tl"/>
<path d="M272.5,523 L272.5,553.4 M274.1,524 L274.1,554 M275.8,523 L275.8,553.4"/>
<path d="M269.0,509.8 L276.1,505.9 L280.5,508.6 L280.0,520.5 L272.8,523.6 L269.6,520.7 Z" fill="#fff" stroke-width="1"/>
<path d="M269.1,509.9 L272.8,512.4 L280.3,508.7 M272.8,512.4 L272.8,523.5"/>
<path d="M266.8,554.2 L273.4,551.0 L281.5,554.6 L274.5,558.6 Z"/>
<path d="M266.8,554.2 L266.8,555.4 L274.5,559.9 L281.5,555.8 L281.5,554.6" class="tl"/>
<path d="M168.9,448.8 L199.2,463.5 L200.4,505.1"/>
<path d="M168.9,448.8 L168.9,461.0"/>
<path d="M201.6,463.0 L202.6,504.0" class="tl"/>
<path d="M168.9,448.8 L245.1,423.0 L274.6,434.8 L266.0,438.2 L199.2,463.5"/>
<path d="M171.6,449.4 L245.0,424.6 L271.6,435.6" class="tl"/>
<path d="M199.4,465.0 L266.4,439.8" class="tl"/>
<path d="M274.6,434.8 L281.6,444.9 L280.9,466.0"/>
<path d="M280.3,467.3 L280.3,477.2 L269.8,481.2"/>
<path d="M266.0,438.2 C267.5,442.9 267.5,443.8 270.4,452.4 C273.3,460.9 273.3,460.0 274.7,463.8"/>
<path d="M268.0,437.4 C269.5,442.4 269.6,443.8 272.5,452.4 C275.4,460.9 275.3,459.5 276.7,463.0" class="tl"/>
<path d="M274.7,464.5 L266.0,476.2 L265.4,479.7"/>
<path d="M277.0,463.8 L267.9,476.2" class="tl"/>
<circle cx="280.3" cy="465.2" r="2" fill="#fff"/>
<path d="M282.8,464.5 L297.7,459.8" class="tl"/>
<path d="M215.3,457.6 L215.3,496.1 M217.1,456.8 L217.1,495.3"/>
<path d="M230.9,451.8 L230.9,489.9 M232.7,451.0 L232.7,489.1"/>
<path d="M245.6,446.2 L245.6,483.7 M247.4,445.4 L247.4,482.9"/>
<path d="M259.6,441.0 L259.6,477.5 M261.4,440.2 L261.4,476.7"/>
<path d="M200.4,477.1 L276.8,449.9 M200.4,478.8 L277,451.6" class="tl"/>
<path d="M200.4,505.1 L205.0,503.4"/>
<path d="M225.0,495.6 L234.0,492.0"/>
<path d="M266.0,477.5 L273.0,474.6"/>
<path d="M204.6,502.0 L224.8,493.4 L225.2,503.5 L205.7,512.5 Z" fill="#fff"/>
<path d="M205.6,503.6 L224.0,495.8 L224.0,497.4 L205.8,505.2" class="tl"/>
<circle cx="211.6" cy="507.4" r="0.7" fill="#3aa7e4" stroke="none"/>
<circle cx="217" cy="504.8" r="0.7" fill="#3aa7e4" stroke="none"/>
<circle cx="222.5" cy="502.4" r="0.7" fill="#3aa7e4" stroke="none"/>
<path d="M244.4,487.4 C242.7,487.9 242.3,486.8 239.4,488.8 C236.5,490.8 236.8,490.1 235.8,493.5 C234.8,496.9 234.9,495.8 236.4,499.0 C237.9,502.2 237.6,502.0 240.4,503.2 C243.2,504.4 243.4,502.8 244.9,502.6" fill="#fff"/>
<ellipse cx="245.4" cy="495" rx="5.4" ry="7.5" fill="#fff" transform="rotate(8 245.4 495)"/>
<ellipse cx="245.70000000000002" cy="495" rx="3.1" ry="4.4" transform="rotate(8 245.4 495)"/>
<path d="M259.0,481.2 C257.3,481.7 256.9,480.6 254.0,482.6 C251.1,484.6 251.4,483.9 250.4,487.3 C249.4,490.7 249.5,489.6 251.0,492.8 C252.5,496.0 252.2,495.8 255.0,497.0 C257.8,498.2 258.0,496.6 259.5,496.4" fill="#fff"/>
<ellipse cx="260" cy="488.8" rx="5.4" ry="7.5" fill="#fff" transform="rotate(8 260 488.8)"/>
<ellipse cx="260.3" cy="488.8" rx="3.1" ry="4.4" transform="rotate(8 260 488.8)"/>
<path d="M233.4,490.0 C234.3,488.2 232.8,487.3 236.0,484.6 C239.2,481.9 240.7,482.9 243.0,482.0" class="tl"/>
<ellipse cx="238.8" cy="481" rx="1.6" ry="1.1" class="tl" transform="rotate(-20 238.8 481)"/>
<clipPath id="gclip"><path d="M171.5,448.1 L245.0,423.5 L272.5,435.6 L200.2,462.8 Z"/></clipPath><path d="M220.5,445.0 L220.2,446.6 L218.6,447.9 L218.5,448.4 Z M208.7,440.3 L210.3,441.1 L208.0,443.2 L210.4,443.9 L211.0,442.4 Z M212.4,437.3 L214.4,437.7 L215.8,437.0 M193.1,447.6 L193.1,448.4 L192.9,447.4 L195.4,449.6 M232.3,435.7 L232.3,433.6 L232.7,431.9 Z M192.7,457.8 L191.2,459.6 L191.0,461.7 Z M195.2,455.6 L194.0,453.8 L193.1,455.9 L194.5,454.2 L193.1,452.4 Z M225.1,441.0 L227.7,442.2 L227.2,441.7 Z M261.2,438.9 L260.1,440.6 L258.6,440.2 L260.5,440.8 L258.4,442.9 Z M212.4,452.6 L214.1,452.1 L211.9,450.8 L212.6,448.7 Z M221.0,435.7 L221.0,436.1 L222.9,434.7 L221.1,436.5 L222.7,435.4 Z M251.3,441.9 L252.3,441.4 L252.2,439.5 Z M194.5,453.3 L193.2,454.2 L191.9,455.6 L192.4,454.7 Z M204.4,450.8 L205.0,449.8 L207.2,448.5 L204.7,447.5 L204.4,445.6 Z M214.8,447.3 L212.7,445.7 L212.5,445.0 M236.0,447.7 L233.6,445.6 L235.7,446.5 L238.1,444.4 L238.8,444.3 M222.9,453.7 L222.7,453.1 L220.3,455.0 M208.4,458.3 L207.7,459.1 L209.7,460.7 L209.3,462.0 M230.9,442.7 L230.3,440.5 L228.1,438.7 L226.1,437.7 Z M221.9,452.6 L222.4,452.4 L224.1,450.5 L225.4,448.5 L226.0,448.4 Z M236.5,438.0 L237.3,437.9 L239.4,437.4 L237.5,437.8 L237.6,439.0 Z M253.2,432.1 L252.3,432.8 L250.7,432.5 M262.2,436.6 L260.7,438.4 L259.2,436.8 L258.5,438.6 Z M204.2,460.2 L202.2,460.1 L204.4,461.6 Z M228.4,444.6 L230.2,446.7 L229.9,444.8 L227.5,446.5 L225.1,447.4 M216.5,451.5 L217.3,451.1 L215.7,452.2 Z M250.3,439.2 L248.3,437.5 L248.5,438.1 L247.8,436.3 L246.3,437.7 Z M244.5,440.5 L245.7,439.1 L244.5,438.4 L245.5,438.5 L246.1,439.6 Z M254.2,440.1 L253.7,441.8 L253.1,441.6 Z M230.0,443.6 L231.6,445.5 L231.4,446.2 L229.8,447.2 L231.5,447.8 M212.7,455.3 L215.1,455.5 L216.7,454.7 M243.8,432.3 L241.4,431.6 L241.0,430.7 M212.1,454.8 L213.7,453.3 L212.8,454.6 L211.0,453.1 M247.5,441.2 L247.2,442.8 L247.6,443.7 L248.9,443.4 L249.2,444.9 M198.6,451.9 L197.3,452.6 L199.7,454.2 L200.2,453.4 L198.4,453.6 Z M219.7,442.1 L219.7,442.6 L217.3,444.7 M223.3,449.2 L221.4,447.4 L219.6,449.3 L219.4,451.2 L221.0,450.7 Z M217.5,441.4 L217.6,439.7 L217.2,437.6 L215.9,438.5 M179.4,450.7 L180.4,449.9 L179.6,450.4 Z M216.3,439.9 L217.3,441.6 L214.9,442.2 M231.7,440.6 L231.8,439.3 L230.4,439.5 L230.8,437.9 L233.0,438.5 Z M202.2,452.5 L200.7,454.7 L202.8,453.1 Z M232.1,434.6 L231.8,436.6 L232.0,437.5 Z M239.6,443.2 L238.0,444.0 L240.1,446.1 Z M229.7,445.9 L232.3,447.4 L233.9,447.3 L231.4,448.5 L232.0,450.3 Z M211.4,450.7 L209.2,452.7 L209.0,453.9 L208.1,453.7 L208.1,453.4 M192.9,458.1 L191.2,457.9 L192.5,457.5 Z M198.6,451.8 L197.6,450.0 L199.4,451.7 M255.8,432.6 L255.8,434.7 L257.4,433.7 M247.3,439.9 L245.4,439.2 L245.6,438.6 L245.3,437.2 Z M207.8,454.8 L207.6,452.7 L206.9,453.3 L207.5,452.1 M229.9,437.0 L229.4,435.6 L227.2,435.7 L227.2,434.4 L225.2,434.0 M201.8,449.1 L199.5,447.8 L198.9,446.0 L197.6,447.8 L197.8,447.9 M240.6,447.0 L240.3,447.7 L240.5,448.4 L242.9,447.9 L245.2,447.4 M249.0,434.5 L246.7,436.4 L246.3,436.5 L246.8,435.9 L245.7,436.6 M212.7,451.2 L210.2,452.4 L210.6,453.0 L210.2,453.8 Z M206.2,446.6 L208.8,448.6 L206.5,450.3 L206.2,450.3 L208.6,449.1 M259.7,434.3 L257.8,436.3 L256.5,437.2 L254.1,436.9 Z M244.4,432.3 L242.5,432.0 L243.4,431.8 Z M226.0,440.1 L226.2,442.3 L228.6,443.3 L227.2,441.6 L229.2,442.8 M205.9,444.0 L207.1,444.9 L205.5,443.9 L204.1,445.9 L204.2,446.6 Z M238.9,439.9 L237.7,439.5 L238.4,437.8 M236.3,439.2 L238.8,439.1 L238.1,438.4 L238.1,436.8 L240.0,438.1 Z M254.5,438.6 L254.2,439.6 L253.6,438.1 Z M249.1,435.5 L249.3,436.6 L251.5,436.3 L250.8,434.5 M226.5,441.3 L226.3,442.7 L223.8,441.9 L225.9,442.3 L226.9,442.3 M220.4,452.1 L219.6,453.1 L218.9,451.4 M238.6,446.1 L240.7,445.9 L242.3,445.0 L241.4,444.6 L243.6,446.3 Z M208.7,445.0 L209.6,445.4 L211.2,446.5 L210.5,446.0 Z M220.1,437.1 L221.5,438.8 L220.4,436.7 M227.3,442.7 L228.1,444.1 L225.8,444.3 M250.0,441.5 L247.6,442.1 L245.5,443.5 Z M237.3,437.5 L236.4,437.4 L235.6,438.7 L234.8,437.1 L234.7,438.5 Z M253.8,441.9 L255.6,443.2 L257.4,445.0 L259.7,445.6 M245.5,441.1 L247.7,442.9 L246.4,441.4 L247.1,442.3 Z M215.1,446.3 L217.6,444.3 L216.6,442.6 L217.4,443.9 Z M189.7,453.8 L189.6,455.1 L188.6,453.8 L187.9,454.2 L188.4,454.0 M228.8,449.2 L227.1,450.3 L226.2,450.6 L227.8,450.5 Z M261.2,437.7 L262.0,438.9 L259.9,440.5 L259.4,439.2 Z M256.5,440.7 L257.9,442.0 L255.6,443.8 L257.6,445.5 L259.7,445.3 Z M226.8,449.5 L225.1,448.7 L223.8,450.4 L223.9,451.0 M206.5,449.5 L206.8,448.1 L205.3,449.9 Z M191.5,450.8 L192.6,449.0 L192.5,448.9 L194.9,449.3 L196.7,448.4 M227.7,450.1 L229.1,449.9 L226.7,449.5 Z M266.7,436.6 L265.8,434.8 L264.7,434.6 L265.9,434.0 M191.0,451.9 L192.3,453.1 L190.4,452.9 L192.2,453.8 Z M251.4,440.1 L249.9,440.6 L248.8,440.0 L249.0,439.2 L248.1,438.7 M196.6,445.7 L194.5,444.9 L193.4,444.7 L194.1,444.5 L193.5,442.8 M199.4,454.1 L197.7,453.7 L199.5,454.1 Z M192.7,451.6 L191.9,453.0 L194.1,451.4 Z M202.3,454.5 L201.4,454.1 L198.9,453.6 L199.9,455.8 M236.7,440.2 L235.5,438.9 L234.5,438.6 M196.5,448.6 L198.2,449.1 L196.4,450.3 L198.5,450.5 Z M212.6,438.9 L211.1,440.8 L213.6,441.8 L215.9,442.0 L213.4,442.7 M195.5,452.1 L196.6,451.4 L198.8,450.8 L198.6,449.1 M207.2,457.4 L207.5,455.5 L209.6,454.0 L210.9,455.8 L210.0,454.2 M191.7,458.1 L190.4,458.5 L192.1,457.1 L192.4,455.2 Z M212.7,457.3 L210.8,458.4 L212.6,460.2 L213.2,460.8 L214.6,459.3 Z M189.5,455.4 L189.9,454.0 L190.0,452.9 M214.1,449.1 L215.2,450.4 L214.7,450.3 Z M222.0,451.8 L222.3,451.4 L221.2,453.1 L221.0,454.9 L222.0,456.3 Z M206.7,458.4 L206.8,458.1 L208.9,457.3 L206.6,458.3 M241.6,438.2 L243.6,439.9 L242.3,441.4 L240.9,443.1 M209.8,439.1 L210.1,439.8 L212.4,441.5 M248.9,441.3 L250.8,441.0 L252.4,439.8 L253.6,440.1 M201.5,457.0 L203.5,457.3 L203.2,456.4 M179.0,451.2 L181.0,452.6 L180.5,451.9 L181.0,449.9 Z M245.8,430.8 L244.0,432.0 L245.4,433.7 L243.9,435.3 M185.5,452.1 L187.6,450.0 L188.3,450.8 L188.6,451.0 Z M267.3,436.7 L265.2,437.7 L264.2,439.4 L266.2,440.4 L264.3,441.2 M206.9,439.6 L208.8,437.9 L209.8,436.9 M216.9,440.7 L216.2,441.4 L218.2,441.8 L216.8,440.9 M228.3,436.3 L229.2,436.1 L227.0,438.0 L224.8,439.8 L222.2,440.2 M218.7,445.9 L217.5,447.0 L216.2,446.0 M210.7,456.0 L211.3,457.8 L211.7,455.6 M253.2,440.5 L254.0,441.8 L254.1,441.8 L255.9,442.6 M222.9,437.3 L223.2,436.2 L224.3,437.2 L223.1,437.4 M223.3,437.7 L223.8,438.7 L224.2,440.3 Z M220.2,442.4 L221.4,444.0 L219.0,442.3 L217.3,442.9 M241.6,438.8 L240.6,436.8 L239.6,437.3 M207.8,450.2 L208.6,450.2 L208.0,449.1 Z M236.3,440.1 L234.0,439.7 L233.3,438.5 L235.8,436.5 Z M254.1,441.8 L255.4,441.9 L257.9,439.7 Z M213.1,437.7 L212.0,437.4 L209.8,435.3 L212.4,436.5 L213.6,435.3 Z M219.0,438.8 L216.9,437.6 L215.9,439.6 L218.1,438.3 Z M241.8,446.6 L241.0,447.4 L242.9,447.8 L244.9,447.7 L244.3,449.2 Z M234.9,432.8 L233.6,434.0 L235.2,434.0 L234.7,434.4 M220.1,443.7 L221.0,445.3 L219.5,444.8 L217.2,445.6 L216.5,444.6 Z M192.9,448.3 L193.3,449.0 L191.8,447.2 L189.5,448.2 M189.1,449.2 L186.6,448.4 L186.0,446.6 M217.1,450.8 L218.0,449.9 L218.6,449.9 L216.9,449.9 L215.0,448.7 Z M226.0,445.9 L227.1,444.9 L228.3,445.6 L226.4,444.3 L225.3,445.2 Z M224.1,450.3 L222.0,449.8 L222.6,448.2 M239.6,436.6 L241.2,438.7 L240.2,439.4 M207.1,452.7 L205.1,453.9 L204.5,455.1 L203.2,456.4 L201.2,456.4 Z M247.5,429.8 L246.4,428.3 L245.9,428.2 L244.2,428.9 L242.8,427.1 Z M207.2,441.0 L206.0,442.5 L205.0,444.4 L207.1,442.7 L209.2,444.5 Z M222.9,450.4 L222.8,449.6 L221.5,447.5 L220.7,449.2 M209.8,451.2 L210.5,450.7 L209.7,452.5 Z M229.6,434.6 L230.3,435.2 L229.8,434.8 Z M256.1,438.8 L258.6,438.3 L260.1,439.1 L259.0,439.1 Z M190.8,456.7 L189.4,457.5 L188.0,455.3 L188.2,454.8 Z M225.9,445.0 L223.7,446.4 L225.7,447.3 L227.3,446.2 L225.2,444.1 M198.5,449.3 L200.9,450.7 L199.1,451.3 Z M223.4,440.0 L222.7,440.7 L222.7,441.4 L221.9,442.3 M249.5,441.2 L251.2,442.9 L250.2,444.5 M228.7,439.0 L226.4,437.9 L226.4,439.2 L225.8,440.2 Z M233.2,435.6 L235.0,434.3 L235.3,432.7 L237.9,433.3 Z M233.4,434.4 L231.4,433.8 L232.3,432.7 Z M189.7,456.6 L188.5,455.6 L187.2,456.3 Z M225.5,434.4 L226.6,432.8 L224.2,431.8 M224.9,441.8 L222.7,441.5 L224.6,442.2 L223.1,443.2 Z M198.7,453.2 L199.7,453.4 L201.2,451.9 L199.5,450.1 L201.8,449.0 Z M190.1,450.6 L189.0,450.9 L187.8,450.5 Z M183.9,450.1 L182.7,448.1 L180.4,449.9 L179.4,448.0 L177.8,447.9 M211.0,455.2 L208.5,454.5 L208.9,454.8 L207.4,455.3 M200.4,445.4 L200.8,447.4 L198.4,449.0 L200.7,449.1 M214.5,436.7 L211.9,435.4 L214.3,433.2 L214.5,434.6 M236.5,436.0 L238.2,437.1 L240.8,435.4 L243.1,434.9 L244.2,433.8 M190.2,456.3 L189.2,457.2 L189.3,456.3 M230.1,439.3 L228.9,441.1 L228.0,439.3 L227.1,440.3 Z M241.0,437.4 L239.5,436.7 L237.7,436.2 L236.1,434.1 L235.5,432.1 Z M263.7,435.2 L261.2,433.8 L259.0,434.2 M208.7,447.4 L208.7,448.6 L210.8,450.0 Z M225.9,450.9 L227.3,451.0 L224.8,452.0 M226.5,438.4 L228.3,438.9 L228.4,439.2 L226.4,440.7 M223.4,446.2 L225.2,446.2 L224.5,446.4 L222.2,448.3 M213.0,441.8 L213.5,443.7 L211.6,443.6 M234.4,434.9 L234.2,435.2 L231.9,437.2 L233.2,439.0 L231.2,437.6 M197.9,446.6 L199.8,447.5 L198.5,448.9 Z M234.8,446.4 L234.7,448.4 L233.4,446.7 Z M250.9,440.7 L252.4,442.3 L253.8,442.5 M184.7,453.0 L186.5,451.3 L184.8,450.9 M241.5,444.7 L239.4,445.3 L239.6,444.5 M257.7,431.7 L257.1,433.1 L258.1,434.6 L260.4,435.3 Z M208.7,453.8 L209.7,453.6 L207.8,451.9 M226.4,438.7 L223.8,436.8 L222.3,437.7 M233.7,432.9 L234.4,432.5 L236.0,432.1 Z M234.7,448.1 L234.8,447.7 L234.8,446.0 L232.8,447.7 M196.1,455.7 L198.3,455.3 L199.6,455.7 Z M188.7,453.2 L189.2,453.9 L188.0,454.7 L185.4,455.1 Z M215.8,447.4 L215.3,446.4 L213.2,448.1 L214.6,446.4 M211.0,440.9 L208.5,438.8 L209.0,439.7 L211.5,441.1 M225.1,434.9 L224.4,434.8 L223.4,435.5 M268.8,436.1 L268.4,434.9 L268.6,433.2 L266.3,435.4 M254.7,440.4 L257.3,439.2 L256.6,437.6 L256.0,438.6 L253.9,437.2 M237.7,442.7 L238.5,444.8 L238.4,446.5 L238.0,444.9 Z M221.7,450.5 L219.7,450.1 L220.0,452.2 M206.9,459.7 L204.9,460.0 L203.0,458.2 L203.1,457.3 L204.5,456.1 Z M182.5,451.0 L180.7,449.2 L178.9,451.0 L180.5,451.0 Z M218.1,437.7 L218.7,439.3 L221.1,438.9 L218.6,437.4 L220.2,438.4 M198.5,452.3 L198.0,452.2 L200.1,452.4 M239.2,434.8 L237.0,433.8 L235.0,435.6 L234.1,435.6 M262.0,438.0 L264.5,439.9 L262.4,440.5 L261.2,440.9 L259.7,439.1 M218.1,447.8 L217.8,445.8 L219.5,443.9 L219.7,444.1 Z M208.0,444.2 L210.4,444.3 L210.5,445.3 L209.9,445.7 Z M231.9,436.7 L231.3,437.1 L230.6,436.3 M223.7,438.7 L221.8,439.8 L220.9,441.4 L219.5,441.8 M258.1,433.3 L257.6,432.4 L258.5,430.6 L261.1,432.0 Z M217.9,451.6 L218.6,449.6 L220.0,447.7 L220.7,447.9 M260.2,434.7 L260.5,436.1 L260.4,435.4 L261.0,437.2 L262.7,435.8 Z M226.0,434.3 L226.9,435.6 L226.6,437.4 L227.8,438.9 M221.0,450.7 L219.0,449.1 L218.0,451.0 L218.3,452.9 L216.8,452.5 M248.4,433.2 L250.5,435.1 L248.9,436.0 Z M225.9,448.2 L227.3,446.5 L228.6,445.0 L229.0,443.7 L228.2,442.2 Z M229.4,441.0 L229.2,441.4 L229.0,442.6 L227.1,443.5 Z M192.6,453.5 L191.3,454.5 L191.7,453.4 L189.4,454.8 L188.8,455.8 Z M232.4,440.8 L234.5,440.6 L234.4,439.4 L235.7,437.6 Z M238.4,438.8 L238.3,438.7 L238.1,440.8 L237.3,439.9 L236.0,438.4 M254.6,436.4 L252.6,437.6 L253.1,439.4 L255.3,440.2 Z M260.5,433.9 L261.1,435.3 L263.6,433.6 L262.9,432.2 M228.6,436.4 L226.7,436.3 L225.5,435.4 L224.4,435.4 L226.3,433.9 M250.7,435.2 L252.3,433.7 L253.6,434.6 L254.1,435.2 L253.0,434.9 M234.4,439.7 L234.1,439.1 L235.3,441.1 L235.3,441.4 Z M215.4,455.4 L215.8,457.3 L217.0,456.4 Z M265.7,437.0 L268.3,436.1 L270.2,434.2 M240.4,446.8 L242.9,448.9 L245.1,449.1 L244.8,449.9 L242.6,450.7 M263.0,436.3 L262.5,436.2 L260.4,436.2 M257.9,431.7 L260.0,430.6 L258.5,429.6 Z M235.3,446.3 L237.2,448.2 L234.7,448.2 M238.7,439.6 L237.7,438.2 L239.1,436.6 L241.3,434.9 L240.2,434.1 M206.6,441.2 L207.6,441.3 L208.0,442.4 M256.2,440.8 L255.7,440.1 L254.9,437.9 M207.6,450.2 L208.7,450.3 L207.9,451.0 L210.2,450.6 L208.6,449.3 Z M213.7,455.3 L212.4,456.0 L211.1,456.1 Z M197.6,447.5 L198.8,446.2 L196.4,445.1 L194.3,445.9 M216.6,437.5 L215.9,439.3 L218.4,438.8 L216.5,440.1 L218.0,439.4 M207.8,443.7 L210.1,441.8 L212.6,443.6 L210.3,441.5 L212.6,441.2 Z M214.4,440.1 L213.5,442.0 L211.7,442.9 L214.0,441.6 Z M245.4,442.8 L247.4,443.6 L246.7,444.6 L248.9,443.0 L250.8,445.1 M224.8,434.3 L223.2,432.7 L223.3,432.9 L223.7,434.0 M215.7,451.1 L215.7,449.6 L214.9,449.9 L213.8,451.2 L216.2,451.0 M246.2,433.9 L244.4,433.7 L245.3,433.5 M219.5,439.5 L217.8,440.5 L216.3,438.4 Z M243.8,435.4 L241.5,433.3 L240.7,431.9 L243.1,431.2 L245.0,431.4 M211.0,452.4 L210.3,454.1 L210.7,453.7 M214.9,442.2 L213.5,444.1 L215.3,445.8 L213.6,445.8 M231.3,434.4 L230.8,435.3 L229.9,435.9 L230.6,433.7 L230.5,432.0 M247.9,437.1 L245.3,437.0 L244.1,437.4 L244.8,437.2 L242.7,437.2 Z M245.1,444.8 L245.3,442.8 L244.2,440.8 L244.6,440.4 Z M204.0,452.5 L203.6,452.8 L206.0,452.7 Z M216.6,452.6 L216.6,454.4 L217.4,455.3 L217.1,454.4 L217.9,452.7 Z M232.7,434.7 L234.3,433.3 L235.9,432.4 L234.6,434.3 Z M218.9,441.0 L219.5,442.8 L221.7,443.4 L219.5,444.2 L217.4,446.3 M200.1,444.2 L201.5,443.1 L202.6,443.8 L203.9,444.5 L203.6,444.1 Z M205.2,449.1 L203.8,450.0 L201.4,451.7 L201.4,453.8 Z M220.5,435.7 L220.6,434.9 L219.4,433.5 M247.6,443.3 L246.7,441.3 L244.2,441.5 L244.6,440.6 Z M215.5,456.3 L213.1,457.9 L213.2,457.8 M196.1,445.9 L195.4,445.6 L194.8,444.9 L197.2,444.0 L199.1,445.5 M213.4,455.5 L215.5,453.6 L215.2,453.5 L214.7,454.1 M252.8,432.2 L253.3,431.9 L250.7,430.1 L249.1,432.2 M212.4,456.9 L212.9,458.8 L211.7,460.2 L209.3,458.2 L207.0,460.3 M193.5,447.9 L193.8,445.7 L193.6,446.2 M257.9,430.4 L256.5,431.8 L255.2,433.4 L254.7,431.6 L255.0,430.4 M212.1,444.2 L211.6,444.1 L209.5,446.1 L211.3,446.0 L211.8,445.2 M189.6,450.4 L191.3,451.4 L191.7,452.4 M186.6,450.6 L185.9,450.4 L185.7,449.6 M210.6,443.1 L210.3,442.9 L212.3,442.7 Z M263.6,438.1 L265.6,436.2 L264.2,435.0 L264.7,435.4 M211.2,440.9 L209.8,442.1 L210.0,444.2 L209.2,445.1 Z M223.5,448.4 L221.4,447.9 L223.3,447.0 L225.6,448.1 Z M210.0,437.9 L211.8,437.5 L212.2,438.4 M242.1,437.7 L240.9,438.5 L240.4,437.0 L237.9,438.1 M244.8,435.3 L243.6,435.6 L243.8,435.5 Z M241.9,444.4 L241.9,446.1 L244.3,446.9 L242.2,444.9 L242.0,445.2 Z M182.2,452.7 L183.5,450.8 L182.5,451.7 L183.5,453.1 Z M202.1,447.2 L202.2,447.4 L201.7,446.9 L203.2,447.5 L204.9,448.0 Z M199.5,460.4 L201.1,461.5 L199.8,461.4 L200.9,459.3 L202.5,460.9 Z M242.3,440.1 L243.9,441.9 L245.7,442.8 L243.2,444.6 M206.7,448.8 L205.3,447.5 L205.9,446.0 L208.3,445.3 Z M226.3,448.7 L227.2,447.3 L226.4,448.2 L224.9,449.9 L226.9,448.7 Z M208.8,452.7 L210.6,453.8 L212.0,454.6 M183.2,453.1 L182.5,455.2 L183.0,456.8 L180.7,455.0 L178.2,455.9 Z M210.5,450.9 L211.5,449.0 L212.9,447.7 L210.4,446.6 L207.8,448.5 Z M183.7,453.8 L184.1,452.8 L182.1,454.3 L182.0,454.4 Z M256.9,435.9 L258.5,435.7 L259.6,434.6 L261.2,434.0 L260.0,433.7 M266.1,433.6 L265.0,432.7 L264.4,433.3 Z M219.7,444.5 L221.7,446.0 L222.6,446.8 L223.9,446.6 Z M236.4,446.1 L238.6,447.6 L236.3,446.5 L238.8,446.7 L238.9,445.8 M236.8,448.3 L237.0,446.6 L238.9,448.0 M238.9,436.1 L239.4,436.3 L237.1,437.2 L234.9,438.3 Z M234.1,448.2 L234.3,447.5 L234.7,448.0 L232.2,446.8 L233.0,445.5 Z M236.7,434.6 L236.8,436.7 L235.2,435.3 L236.7,434.1 L235.0,433.4 M245.6,440.8 L243.2,439.3 L243.0,441.4 L242.1,440.3 L243.8,438.9 M242.3,445.1 L244.2,444.2 L246.2,444.9 Z M230.7,438.4 L233.1,437.2 L231.9,439.1 L232.8,437.1 L231.2,436.0 Z M252.4,436.5 L253.3,437.0 L252.7,438.0 L252.7,436.0 L252.6,435.5 M253.6,429.4 L253.0,431.3 L253.8,431.8 L252.2,429.6 M236.1,440.8 L234.5,441.8 L232.3,443.4 L229.8,442.1 Z M250.2,435.6 L248.5,435.0 L250.4,434.3 L248.2,433.4 L248.8,435.1 Z M223.3,435.3 L221.0,436.8 L221.5,438.7 L219.1,437.0 L218.0,435.6 Z M204.6,452.5 L202.4,453.9 L203.9,453.5 Z M181.4,453.3 L179.0,454.7 L181.2,454.3 L182.7,455.9 L181.6,454.9 M206.1,455.5 L208.3,453.8 L209.1,452.7 L208.1,451.6 M199.9,456.3 L198.3,455.8 L200.1,457.0 L198.1,459.1 L199.4,460.7 Z M242.3,445.6 L244.3,444.6 L242.9,444.6 L241.7,444.9 L240.5,444.9 Z M246.4,437.7 L247.1,436.8 L246.1,437.2 L244.5,437.0 M251.0,428.1 L251.0,428.6 L251.3,427.5 L250.6,428.0 M199.8,455.3 L198.9,454.3 L201.5,454.9 L199.2,455.8 L197.8,455.8 M259.6,438.7 L258.3,439.0 L257.0,440.0 L258.5,440.1 M256.3,434.2 L254.3,434.6 L255.3,434.2 M217.3,438.4 L218.2,440.5 L215.9,438.7 L213.5,438.5 L215.2,439.3 M244.5,432.6 L242.2,433.2 L242.1,431.5 M246.4,442.0 L245.7,442.7 L245.1,442.3 M220.5,440.1 L221.9,440.7 L221.7,438.5 L221.6,437.5 M223.3,443.0 L223.5,442.4 L222.8,440.6 M227.9,439.4 L227.4,441.3 L227.3,440.8 L227.2,440.2 M186.9,453.5 L189.3,455.5 L189.0,455.8 Z M228.0,437.1 L230.0,435.9 L227.5,437.6 L227.4,435.9 Z M257.0,435.8 L257.3,434.3 L256.5,432.9 M235.0,437.0 L233.0,435.0 L233.8,434.8 M235.3,432.4 L237.5,431.0 L237.5,430.2 Z M254.3,441.1 L256.5,443.1 L257.1,442.3 L258.3,444.1 M189.4,454.9 L191.2,455.0 L191.4,454.0 Z M233.7,447.0 L234.9,448.1 L234.1,447.8 L235.1,448.8 L234.9,447.1 Z M207.5,455.6 L209.3,455.5 L207.7,453.6 L206.3,454.1 Z M193.0,453.7 L193.6,454.9 L194.1,456.5 L196.6,456.1 L197.3,455.5 Z M216.7,448.3 L216.5,448.5 L215.3,449.4 L213.5,448.4 M186.4,453.3 L184.3,454.6 L186.5,453.8 L185.8,452.1 L184.0,452.7 M185.6,450.7 L184.2,452.4 L183.4,452.2 L181.9,451.3 Z M212.6,451.5 L211.1,451.8 L212.6,451.8 Z M205.2,440.3 L205.7,438.1 L205.4,438.6 L204.5,436.5 L204.1,435.9 M223.7,451.7 L224.1,450.1 L225.7,448.3 L226.0,446.5 L223.9,446.1 Z M259.7,431.3 L262.1,432.5 L262.9,432.3 L264.3,433.1 Z M222.1,441.3 L223.4,443.1 L224.0,444.5 L225.3,444.2 L227.0,445.3 M262.9,434.2 L262.6,434.1 L262.9,433.1 M219.6,451.5 L217.0,451.7 L214.9,453.4 L212.7,452.4 M233.3,442.7 L232.4,443.4 L232.1,441.3 L229.8,441.2 M231.0,441.4 L231.5,439.2 L234.0,440.7 L233.4,439.2 L235.1,441.3 Z M249.2,440.1 L247.7,438.4 L246.0,437.2 L248.0,439.0 L247.9,437.4 Z M207.8,451.5 L208.0,450.9 L210.3,448.8 L211.8,450.1 L211.8,452.1 M261.5,433.1 L259.1,432.6 L258.4,430.6 Z M229.0,450.2 L226.5,449.4 L225.9,448.6 L224.0,449.0 M205.0,442.3 L204.2,442.1 L205.5,440.7 M212.7,445.9 L214.0,445.0 L213.7,444.4 Z M237.0,433.0 L239.2,433.4 L241.6,435.3 Z M249.7,427.3 L247.7,426.5 L247.4,428.0 M211.9,455.5 L209.5,454.6 L211.6,456.0 L211.1,454.1 L213.0,453.8 Z M218.0,446.7 L216.6,444.8 L214.3,444.4 L214.5,444.0 M230.4,436.8 L232.0,435.0 L232.6,432.8 L233.9,431.3 Z M246.7,436.4 L248.7,435.8 L248.4,435.9 L245.9,434.1 L247.4,434.4 Z M217.9,450.1 L217.4,452.2 L218.4,453.4 L216.5,452.5 L218.9,454.3 M236.7,448.3 L238.4,449.8 L238.6,450.0 M219.5,436.4 L221.9,434.9 L222.2,433.3 M227.9,446.1 L229.6,445.8 L228.7,447.5 L228.0,448.4 M253.0,430.3 L254.2,428.4 L256.5,428.5 L254.0,428.4 Z M204.5,458.0 L202.5,457.8 L201.3,458.5 L199.3,457.8 Z M218.6,443.0 L217.6,440.9 L218.8,442.5 L219.0,443.4 L217.4,445.2 Z M241.1,439.6 L240.2,437.5 L238.0,436.2 L239.2,437.7 Z M196.3,446.7 L198.4,445.7 L196.3,447.7 M237.1,437.2 L236.4,439.0 L237.7,441.1 L238.3,441.9 L239.5,440.3 Z M194.6,457.5 L196.4,458.9 L196.8,457.0 L198.0,458.5 M238.6,437.1 L241.1,436.8 L242.0,437.6 L243.0,437.0 L243.8,435.1 M246.5,440.8 L248.8,439.2 L248.5,440.6 L249.6,439.1 M261.4,436.0 L259.9,435.6 L260.9,437.4 M198.0,460.0 L196.3,459.1 L194.6,457.3 L195.3,456.6 L197.9,458.2 M189.2,454.1 L190.8,456.2 L192.4,458.3 L192.2,456.2 M242.0,443.7 L241.3,441.7 L242.1,441.0 L242.0,440.9 L240.5,438.8 M212.4,455.4 L211.9,453.3 L211.0,452.6 L213.5,452.1 L212.4,453.0 Z M205.4,446.8 L203.3,446.9 L202.6,444.9 M237.6,439.3 L236.1,437.1 L235.1,438.9 L234.0,438.8 M206.4,449.5 L206.0,451.2 L208.3,452.5 M205.3,446.5 L203.4,447.6 L205.2,449.7 L206.6,448.2 M234.1,441.1 L233.5,440.3 L235.9,438.3 Z M251.7,437.4 L250.5,436.2 L249.5,436.7 Z M245.0,443.5 L247.1,445.3 L245.8,446.7 Z M216.7,436.2 L216.8,437.0 L215.3,438.0 M254.3,437.2 L254.3,437.0 L251.8,437.8 L249.4,438.0 L251.6,438.7 Z M243.6,439.7 L244.7,441.2 L242.8,441.3 L244.5,442.9 M206.8,442.3 L204.7,440.5 L207.2,441.7 Z M231.3,448.5 L231.9,449.1 L234.3,448.2 L232.9,447.0 L231.1,444.9 Z M213.0,443.6 L211.9,442.2 L211.6,442.1 L210.8,442.6 M219.1,451.8 L217.6,450.9 L217.6,450.9 L215.5,449.7 L215.5,451.1 M262.1,436.4 L259.7,438.4 L258.4,439.9 L256.9,439.3 Z M237.9,436.3 L236.6,435.8 L238.1,433.7 M230.7,444.6 L231.8,443.4 L230.2,443.3 Z M215.0,437.0 L214.2,438.6 L214.4,436.6 L215.1,436.5 L216.2,438.6 Z M189.5,453.7 L188.0,451.5 L186.0,449.7 L187.6,450.1 L187.5,448.4 M232.9,442.3 L231.0,441.5 L229.2,441.4 L226.7,443.1 L227.7,444.4 Z M260.8,436.2 L262.4,434.9 L261.6,433.0 L263.0,432.8 L265.5,431.9 Z M261.1,438.8 L263.1,440.7 L261.9,441.2 Z M247.2,443.7 L247.8,443.9 L248.0,443.3 L250.5,444.4 L250.4,443.2 Z M213.7,446.3 L216.0,444.6 L216.6,446.0 M227.1,444.7 L225.2,446.1 L225.8,447.7 M191.7,449.1 L192.1,449.7 L192.8,447.7 L191.2,447.4 L193.0,449.4 M224.1,440.6 L222.5,439.3 L220.0,437.2 L221.6,438.8 L219.8,436.7 M207.2,451.0 L207.4,452.0 L207.7,450.9 L206.1,452.0 L207.7,450.7 M200.0,452.3 L198.8,452.9 L197.8,451.2 Z M223.3,437.3 L221.7,438.1 L223.7,437.9 Z M237.6,442.4 L238.1,444.3 L238.8,444.7 Z M215.5,447.0 L218.1,446.5 L216.3,448.2 M204.5,456.2 L204.6,456.7 L204.9,457.4 L205.2,457.7 Z M193.6,452.0 L195.9,451.1 L196.3,451.2 Z M207.1,454.9 L208.1,455.7 L209.8,453.5 M205.2,454.0 L205.9,454.4 L206.6,454.3 L207.2,453.4 L207.0,454.2 Z M241.4,438.1 L242.0,438.3 L243.4,437.4 L242.7,437.1 M229.6,434.0 L232.1,434.0 L234.7,434.5 Z M234.8,443.3 L233.4,444.4 L235.9,444.4 L237.7,445.1 L237.0,446.7 Z M249.5,434.4 L249.1,436.5 L249.0,435.0 M203.0,442.8 L201.3,443.7 L199.6,443.8 M202.6,458.1 L202.9,456.8 L205.0,454.9 M265.7,434.8 L265.3,436.4 L263.3,436.6 L263.2,436.8 M224.7,438.5 L225.6,437.8 L225.7,438.2 L227.9,437.1 L227.1,437.1 Z M194.0,447.3 L194.5,446.3 L195.1,446.2 L196.7,447.5 Z M257.8,431.4 L257.1,431.1 L259.6,431.1 L262.2,431.6 M227.4,452.0 L226.9,452.3 L227.0,452.6 L227.4,454.5 M206.4,459.6 L206.6,461.2 L208.7,463.3 M232.1,449.5 L229.5,447.5 L228.6,447.5 L231.0,448.1 " clip-path="url(#gclip)" fill="none" stroke="#3fa7e8" stroke-width="0.5" stroke-linejoin="round"/>
<path d="M145.9,473.5 L147.2,469.3 L166.4,461.6 L191.5,474.8 L192.4,478.1 L193.5,503.9 L181.6,507.8 L176.3,517.1 L170.1,532.7 L142.8,515.9 L142.6,507.8 L142.6,489.3 Z" fill="#fff" stroke="none"/>
<path d="M145.9,473.5 C146.2,472.3 145.2,471.7 146.7,469.8 C148.3,467.9 144.4,470.3 150.5,467.7 C156.7,465.0 159.2,464.0 165.1,461.9 C170.9,459.8 166.1,461.1 168.1,461.3 C170.1,461.6 163.8,458.6 171.0,462.7 C178.2,466.7 182.7,469.1 189.8,473.5 C196.8,477.9 191.4,474.3 192.2,475.9 C192.9,477.5 192.2,477.5 192.2,478.2"/>
<path d="M145.9,473.5 C148.3,474.6 153.2,476.9 157.8,479.0 C162.4,481.2 166.4,483.4 169.0,484.1 C171.7,484.7 168.5,483.4 171.0,482.5 C173.5,481.6 177.4,480.8 181.6,479.6 C185.8,478.3 190.0,476.8 192.2,476.1"/>
<path d="M158.5,468.2 L165.1,465.8 L177.0,472.8 L171.0,476.1 Z"/>
<path d="M145.5,474.5 C144.9,478.1 144.1,482.7 143.3,488.0 C142.5,493.4 142.8,488.6 142.6,494.6 C142.4,500.6 142.5,504.9 142.5,510.5 C142.5,516.1 142.7,514.3 142.8,515.6"/>
<path d="M142.8,515.6 L170.1,532.5 L177.6,529.4"/>
<path d="M169.0,484.1 L170.6,515.8 L170.1,532.5"/>
<path d="M170.8,484.3 L172.1,515.1" class="tl"/>
<path d="M146.6,476.8 L167.7,487.1 L167.3,499.9 L143.5,488.3 Z"/>
<path d="M148.6,481.4 L157.8,492.6 M152.5,482.1 L161.8,492.6" class="tl"/>
<path d="M145.9,495.9 L161.1,504.5 L161.1,510.5 L145.9,502.5 Z"/>
<path d="M146.3,497.3 L160.7,505.7 M146.3,498.6 L160.7,506.9 M146.3,499.9 L160.7,508.1 M146.3,501.2 L160.7,509.3 " class="tl"/>
<path d="M142.7,503.2 L162.5,514.1"/>
<path d="M147.8,510.2 L158.6,516.4 M147.8,514.1 L158.2,519.9" class="tl"/>
<path d="M150.5,516.8 L156.7,520.3 L156.7,522.4 L150.5,518.9 Z" class="tl"/>
<path d="M142.3,507.9 L144.7,509.4 L144.7,513.3" class="tl"/>
<path d="M162.4,518.1 L169.7,518.6 L169.7,525.3 L162.7,526.5 Z"/>
<path d="M162.5,522.6 L169.5,522.2" class="tl"/>
<path d="M172.1,499.2 C172.0,497.6 171.6,491.4 171.7,489.3 C171.8,487.3 170.5,488.0 172.6,487.0 C174.7,485.9 182.1,482.3 184.2,483.0 C186.4,483.7 186.4,489.5 185.5,491.3 C184.7,493.1 180.9,492.8 179.2,494.0 C177.5,495.2 176.4,497.7 175.2,498.6 C174.1,499.5 172.6,499.1 172.1,499.2"/>
<path d="M184.2,482.1 L188.9,481.4 L188.9,490.7 L186.2,491.5 L184.2,489.3 Z" fill="#fff"/>
<path d="M182.9,481.4 L183.6,505.2" class="tl"/>
<path d="M168.1,503.6 L170.5,502.8 M182.6,502.5 L184.5,501.9"/>
<path d="M192.2,478.2 L193.5,504.1"/>
<path d="M176.3,517.1 C176.7,515.1 175.6,514.7 177.6,511.1 C179.6,507.6 178.1,509.2 182.2,506.5 C186.4,503.9 185.1,504.0 190.2,503.2 C195.2,502.4 193.6,502.5 197.4,504.1 C201.3,505.8 200.3,506.8 201.7,508.1"/>
<path d="M178.3,518.4 C178.7,516.4 177.8,515.8 179.6,512.5 C181.4,509.2 180.0,510.8 183.6,508.5 C187.1,506.2 186.0,506.2 190.2,505.5 C194.4,504.7 193.0,504.9 196.1,506.2 C199.2,507.6 198.3,508.4 199.4,509.4" class="tl"/>
<path d="M171.0,518.1 L177.3,516.4 M171.0,522.6 L178.0,520.7 M171.0,527.3 L178.8,524.9 M171.8,530.5 L178.8,528.2 M177.4,516.4 L178.8,528.2" class="tl"/>
<path d="M188.7,511.5 C186.8,512.2 186.4,510.5 183.2,513.4 C180.0,516.4 180.1,515.8 179.1,520.4 C178.0,525.1 178.2,523.6 180.1,527.4 C181.9,531.2 181.6,530.6 184.7,531.8 C187.7,533.1 187.7,531.4 189.2,531.2" fill="#fff"/>
<ellipse cx="189.7" cy="521.4" rx="8" ry="9.8" fill="#fff" transform="rotate(8 189.7 521.4)"/>
<ellipse cx="189.8" cy="521.4" rx="6.3" ry="7.8" class="tl" transform="rotate(8 189.7 521.4)"/>
<ellipse cx="189.9" cy="521.4" rx="4.3" ry="5.3" transform="rotate(8 189.7 521.4)"/>
</g>
<!-- /TRUCK1 -->
<!--ILLUS-->
</svg>
</body></html>
